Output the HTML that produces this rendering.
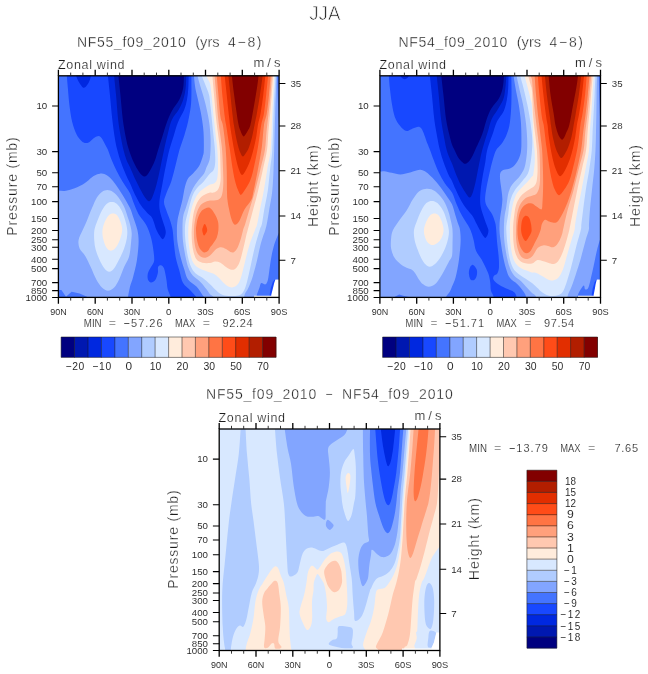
<!DOCTYPE html><html><head><meta charset="utf-8"><title>JJA</title><style>html,body{margin:0;padding:0;background:#fff}svg{display:block}text{font-family:"Liberation Sans",sans-serif;fill:#1c1c1c;stroke:#fff;stroke-width:.3px}</style></head><body>
<svg style="will-change:transform" width="648" height="674" viewBox="0 0 648 674">
<rect width="648" height="674" fill="#fff"/>
<text x="324.8" y="20" font-size="21" text-anchor="middle" textLength="31.2" lengthAdjust="spacingAndGlyphs" style="stroke-width:.75px">JJA</text>
<clipPath id="cp1"><rect x="58.4" y="75.8" width="220.7" height="221.6"/></clipPath>
<g clip-path="url(#cp1)" shape-rendering="geometricPrecision">
<rect x="58.4" y="75.8" width="220.7" height="221.6" fill="#4474ff"/>
<path d="M52 190.7C53.1 190.7 56.2 190.7 58.5 190.7C60.8 190.7 63.3 191.1 66 190.7C68.7 190.3 71.6 189.5 74.7 188.3C77.8 187.1 81.7 185.2 84.6 183.3C87.5 181.5 89.8 178.7 92 177.2C94.2 175.7 96.4 174.7 98.1 174.1C99.8 173.5 100.5 173.3 101.9 173.5C103.4 173.7 105 174.1 106.8 175.3C108.6 176.5 111 178.5 113 180.9C115 183.3 117 186.4 119.1 189.5C121.1 192.6 123.5 196.3 125.3 199.4C127.1 202.5 128.7 205.1 130 208C131.3 210.9 131.9 213 133.1 216.7C134.3 220.4 136.5 225.7 137.4 230C138.3 234.3 138.7 237.2 138.6 242.3C138.5 247.5 137.7 255.1 136.8 260.9C135.9 266.7 134.2 272.6 133.1 276.9C132 281.2 130.8 283.4 130 286.8C129.2 290.2 128.5 294.3 128 297C127.5 299.7 127.2 302 127 303L52 303Z" fill="#82a5ff"/>
<path d="M58 290L61.4 289.9L66 296.7L71.6 291.7L79.6 293.6L87 296.7L87 303L58 303Z" fill="#4474ff"/>
<path d="M82.7 230C84.1 226.8 85.5 224.1 87 220.4C88.5 216.7 90.3 211.8 92 208C93.7 204.2 95.2 200.2 96.9 197.5C98.6 194.8 100.2 193.2 101.9 192C103.7 190.8 105.6 190.1 107.4 190.1C109.2 190.1 111.2 190.8 113 192C114.8 193.2 116.7 195 118.5 197.5C120.3 200 122.4 203.2 124.1 206.8C125.8 210.4 127.3 215.9 128.4 219.1C129.5 222.3 129.9 223.7 130.5 226C131.1 228.3 131.6 230.5 131.7 233C131.8 235.5 131.5 237.8 131.2 241C130.9 244.2 130.5 249.1 130 252C129.5 254.9 129.4 255.9 128.4 258.4C127.4 260.9 125.6 263.5 124.1 267C122.5 270.5 120.8 276 119.1 279.4C117.4 282.8 116 285.5 114.2 287.4C112.4 289.3 110 290.7 108 290.7C106 290.7 103.9 289.3 101.9 287.4C100 285.5 98.2 282.8 96.3 279.4C94.4 276 92.5 270.9 90.7 267C88.9 263.1 87.1 259 85.2 255.9C83.3 252.8 80.7 251.2 79.6 248.5C78.5 245.8 78.1 243 78.6 239.9C79.1 236.8 81.3 233.2 82.7 230Z" fill="#b0ccff"/>
<path d="M94.4 230C95 226.8 96.2 223.7 97.5 220.4C98.8 217.2 100.4 213.3 101.9 210.5C103.5 207.7 105.2 205.1 106.8 203.7C108.4 202.3 110 201.9 111.7 201.9C113.4 201.9 115.1 202.3 116.7 203.7C118.3 205.1 120.2 207.7 121.6 210.5C123 213.3 124.4 217.2 125.3 220.4C126.2 223.7 127 227 127.2 230C127.5 233 127.3 235.5 126.8 238.6C126.3 241.7 125.4 245 124.1 248.5C122.8 252 120.8 256.3 119.1 259.6C117.4 262.9 115.8 266.3 114.2 268.3C112.6 270.3 111 271.7 109.3 271.7C107.6 271.7 105.9 270.3 104.3 268.3C102.7 266.3 100.8 262.7 99.4 259.6C98 256.5 96.6 253.1 95.7 249.8C94.8 246.5 94.4 243.2 94.2 239.9C94 236.6 93.9 233.2 94.4 230Z" fill="#d8e8ff"/>
<path d="M102.5 230C102.8 227.2 103.9 224 104.9 221.6C105.9 219.2 107.2 216.7 108.6 215.4C109.9 214.1 111.5 213.6 113 213.6C114.5 213.6 116.1 214.1 117.3 215.4C118.5 216.7 119.6 219.2 120.4 221.6C121.2 224 122.3 226.9 122.2 230C122.1 233.1 120.9 236.9 119.8 239.9C118.7 242.9 117 246.1 115.4 247.9C113.9 249.7 112 250.8 110.5 250.7C109 250.6 107.4 249.3 106.2 247.3C105 245.3 103.7 241.5 103.1 238.6C102.5 235.7 102.2 232.8 102.5 230Z" fill="#ffecdc"/>
<path d="M66.5 70C66.6 71.1 66.7 73.7 66.9 76.8C67.1 79.9 67.5 83.7 67.9 88.5C68.3 93.3 68.8 100.2 69.5 105.8C70.2 111.4 71 117.2 72.2 121.9C73.4 126.6 75 131 76.5 134.2C78 137.4 80 139.5 81.5 141C83 142.5 84.4 143 85.8 143.1C87.2 143.2 88.7 142.3 90.1 141.4C91.5 140.5 93 138.6 94.4 137.7C95.9 136.8 97.5 135.9 98.8 136C100 136.1 100.7 136.8 101.9 138.5C103.1 140.2 105.2 144.6 106.2 146.5C107.2 148.4 107.1 147.8 108 150C108.9 152.2 110.2 156.4 111.7 159.9C113.2 163.4 114.9 167.3 116.7 171C118.5 174.7 120.6 178.4 122.8 182.1C125 185.8 128.2 189.7 130 193.2C131.8 196.7 132.3 199.6 133.7 203.1C135.1 206.6 136.8 210.9 138.6 214.2C140.4 217.5 143.2 220.2 144.8 222.8C146.5 225.4 147.4 227.2 148.5 230C149.6 232.8 150.8 236.4 151.6 239.9C152.4 243.4 153.1 247.5 153.5 251C153.9 254.5 154.5 258.2 154.1 260.9C153.7 263.6 152 264.9 151 267C150 269.1 148.4 271.1 147.9 273.2C147.4 275.3 147.4 277.8 147.9 279.4C148.4 280.9 149.8 282.4 151 282.5C152.2 282.6 154.2 281.6 155.3 280C156.4 278.4 157.3 275.4 157.8 273.2C158.3 271 157.6 268.3 158.1 267C158.6 265.7 159.9 265 160.9 265.2C161.9 265.4 163.1 265.9 164 268.3C164.9 270.7 165.8 275.9 166.4 279.4C167 282.9 167 286.4 167.7 289.3C168.4 292.2 170 294.7 170.7 297C171.4 299.3 171.8 302 172 303L200 303C199.3 301.9 197.6 298.8 196 296.7C194.4 294.6 192.7 292.8 190.5 290.5C188.3 288.2 184.9 286.4 183.1 283.1C181.2 279.8 180.6 275 179.4 270.7C178.2 266.4 176.6 261.9 175.7 257.2C174.8 252.5 174.3 246.8 173.8 242.3C173.3 237.8 173.2 233.7 172.6 230C172 226.3 171.1 223.7 170.1 220.4C169.1 217.2 167.4 213.6 166.4 210.5C165.4 207.4 164 204.8 164 201.9C164 199 165.2 196.7 166.4 193.2C167.6 189.7 169.9 185.6 171.4 180.9C172.9 176.2 174.4 170 175.7 164.8C177 159.7 178 154.9 179.4 150C180.8 145.1 182.9 140.1 184.3 135.4C185.7 130.7 186.9 126.6 188 121.9C189.1 117.2 190.1 111.5 190.7 107C191.3 102.5 191.3 99.7 191.4 94.7C191.5 89.7 191.4 80.9 191.4 76.8C191.4 72.7 191.4 71.1 191.4 70Z" fill="#1848ff"/>
<path d="M76 70C76.1 71.1 76 74.8 76.5 76.8C77 78.8 78.1 80.6 79 82.3C79.9 84 81.3 85.8 82.1 86.7C82.9 87.6 83.3 87.8 84 87.7C84.7 87.6 85.6 86.9 86.4 86C87.2 85.1 88.2 83.8 88.9 82.3C89.6 80.8 90.3 78.8 90.7 76.8C91.1 74.8 91.1 71.1 91.2 70Z" fill="#0028e0"/>
<path d="M107.4 70C107.5 71.1 107.6 72.7 108 76.8C108.4 80.9 109.2 87.6 109.9 94.7C110.6 101.8 111.5 112.2 112.3 119.4C113.1 126.6 114 132.8 114.8 137.9C115.6 143 116.3 145.9 117.3 150C118.3 154.1 119.6 158.2 121 162.3C122.4 166.4 124.4 171.2 125.9 174.7C127.4 178.2 128.5 180 130 183.3C131.5 186.6 133.1 190.7 134.9 194.4C136.8 198.1 139 202.5 141.1 205.6C143.2 208.7 145.5 210.9 147.3 213C149.2 215.1 150.7 215.1 152.2 217.9C153.7 220.7 155.3 227.1 156.5 230C157.7 232.9 158.6 234 159.6 235.6C160.6 237.2 161.8 239.3 162.7 239.3C163.6 239.3 164.7 237.2 165.2 235.6C165.7 234 166 232.8 165.5 230C165 227.2 163.1 222.5 162.1 219.1C161.1 215.7 160 212.6 159.6 209.3C159.2 206 159.1 203.5 159.6 199.4C160.1 195.3 161.3 190.2 162.3 184.6C163.3 179 164.6 171.8 165.8 166C167 160.2 168 155.1 169.3 150C170.6 144.9 172.3 140.1 173.8 135.4C175.3 130.7 176.3 126.2 178.1 121.9C179.8 117.6 182.8 113.2 184.3 109.5C185.8 105.8 186.3 103.1 187 99.6C187.7 96.1 188 92.3 188.3 88.5C188.6 84.7 188.6 79.9 188.6 76.8C188.6 73.7 188.6 71.1 188.6 70Z" fill="#0028e0"/>
<path d="M113.6 70C113.7 71.1 113.8 72.7 114.2 76.8C114.6 80.9 115.3 87.6 116 94.7C116.7 101.8 117.3 112.2 118.1 119.4C118.9 126.6 120.1 132.8 121 137.9C121.9 143 122.6 146.3 123.5 150C124.4 153.7 125.4 157 126.5 159.9C127.6 162.8 128.6 164.2 130 167.3C131.4 170.4 133.1 174.5 134.9 178.4C136.8 182.3 139.2 187.3 141.1 190.7C142.9 194.1 144.7 197.1 146 198.8C147.3 200.6 148.1 201.4 149.1 201.2C150.1 201 151 200.3 152.2 197.5C153.4 194.7 155.2 189.4 156.5 184.6C157.8 179.8 158.9 174.3 160.2 168.5C161.4 162.7 162.7 156.1 164 150C165.3 143.9 167 136.8 168.3 131.7C169.6 126.6 170.2 123.1 172 119.4C173.8 115.7 176.9 112.8 178.8 109.5C180.7 106.2 182.2 103.1 183.3 99.6C184.4 96.1 185.1 92.3 185.6 88.5C186.1 84.7 186.1 79.9 186.2 76.8C186.3 73.7 186.3 71.1 186.3 70Z" fill="#0018b0"/>
<path d="M117.9 70C118 71.1 118.1 72.7 118.5 76.8C118.9 80.9 119.7 87.6 120.4 94.7C121.1 101.8 121.9 112.2 122.8 119.4C123.7 126.6 124.9 132.8 125.9 137.9C126.9 143 127.7 145.9 129 150C130.3 154.1 132 158.6 133.7 162.3C135.4 166 137.5 169.8 139.3 172.2C141.2 174.6 143.1 176.7 144.8 176.5C146.6 176.3 148.2 173.6 149.8 171C151.5 168.4 153.3 164.6 154.7 161.1C156.1 157.6 156.8 154.3 158.1 150C159.4 145.7 161.2 140.1 162.7 135.4C164.2 130.7 165.4 126 167 121.9C168.6 117.8 169.9 114.4 172 110.7C174.1 107 177.6 103.3 179.4 99.6C181.2 95.9 182.3 92.3 183.1 88.5C183.8 84.7 183.8 79.9 183.9 76.8C184.1 73.7 184 71.1 184 70Z" fill="#000080"/>
<path d="M193.6 70C193.7 71.1 193.7 73.7 194 76.8C194.3 79.9 194.7 84.3 195.4 88.5C196.2 92.7 197.5 97.4 198.5 102.1C199.5 106.8 200.8 112 201.6 116.9C202.4 121.8 203.1 126.2 203.5 131.7C203.9 137.2 203.9 145.9 203.8 150C203.7 154.1 203.6 153.5 202.8 156.2C202 158.9 200.7 163.1 199.1 166C197.5 168.9 194.8 171.4 193 173.5C191.2 175.6 189.3 176.2 188 178.4C186.7 180.7 185.8 183.5 184.9 187C184 190.5 183.4 195.3 182.5 199.4C181.6 203.5 180.2 208.2 179.4 211.7C178.6 215.2 177.9 217.3 177.5 220.4C177.1 223.5 176.9 226.3 176.9 230C176.9 233.7 176.9 237.8 177.5 242.3C178.1 246.8 179.5 252.7 180.6 257.2C181.7 261.7 183.1 265.8 184.3 269.5C185.5 273.2 185.9 276.5 188 279.4C190.1 282.3 194.2 284.1 196.7 286.8C199.2 289.5 201.6 293.7 202.8 295.4C204 297.1 203.7 295.7 204.1 297C204.5 298.3 204.8 302 205 303L256 303C256.1 301.6 256.3 297.3 256.9 294.8C257.5 292.3 258.7 289.9 259.4 288C260.1 286.1 260.2 283.7 261.2 283.1C262.2 282.5 264.5 284.9 265.6 284.3C266.7 283.7 267.4 281.7 268 279.4C268.6 277.1 268.8 274.2 269.3 270.7C269.8 267.2 270.3 262.7 271.1 258.4C271.9 254.1 273 248.9 274.2 244.8C275.4 240.7 277.4 236.5 278.5 233.7C279.6 230.9 280.6 228.9 281 228L281 138C280.6 135.3 279.3 127.3 278.8 122C278.3 116.7 278.3 111.3 278.1 106C277.9 100.7 277.7 94.9 277.6 90C277.5 85.1 277.4 80.1 277.3 76.8C277.2 73.5 277.3 71.1 277.3 70Z" fill="#82a5ff"/>
<path d="M197 70C197.1 71.1 197 73.7 197.7 76.8C198.4 79.9 199.8 84.5 201 88.5C202.2 92.5 203.6 96.6 204.7 100.9C205.8 105.2 207 110.3 207.8 114.4C208.6 118.5 209.2 121.8 209.6 125.6C210 129.4 210.3 132.9 210.5 137C210.7 141.1 210.7 146.2 210.5 150C210.3 153.8 210.2 157.1 209.5 160C208.8 162.9 207.4 165.1 206.5 167.3C205.6 169.6 205.5 171.2 204.1 173.5C202.7 175.8 199.8 178.4 197.9 180.9C196.1 183.4 194.4 185.6 193 188.3C191.6 191 190.4 193.8 189.3 196.9C188.2 200 187.2 203.5 186.2 206.8C185.2 210.1 183.7 212.8 183.1 216.7C182.5 220.6 182.5 225.7 182.5 230C182.5 234.3 182.6 237.8 183.1 242.3C183.6 246.8 184.7 252.9 185.6 257.2C186.5 261.5 187.4 265.2 188.6 268.3C189.8 271.4 191 273.4 193 275.7C195 278 198.2 279.6 200.4 281.9C202.7 284.2 204.9 287.2 206.5 289.3C208.1 291.4 208.8 292.9 210 294.2C211.2 295.5 212.7 295.5 213.7 297C214.7 298.5 215.6 302 216 303L243.5 303C243.7 301.6 243.8 297.3 244.6 294.8C245.4 292.3 247 291 248.3 288C249.6 285 251.2 281.4 252.6 276.9C254 272.4 255.5 266.7 256.9 260.9C258.3 255.1 259.8 247.5 261.2 242.3C262.6 237.2 264.4 233 265.3 230C266.2 227 266.1 227.5 266.8 224.1C267.5 220.7 268.4 214.9 269.3 209.3C270.2 203.7 271.6 197.5 272.3 190.7C273 183.9 273.3 175.3 273.6 168.5C273.9 161.7 273.9 159.2 274.2 150C274.5 140.8 274.8 125.4 275.2 113.2C275.6 101 276.2 84 276.4 76.8C276.6 69.6 276.5 71.1 276.5 70Z" fill="#b0ccff"/>
<path d="M201 70C201.2 71.1 201.5 74.3 202.2 76.8C202.9 79.3 204.2 81.8 205.3 84.8C206.4 87.8 208.1 91 209 94.7C209.9 98.4 209.9 100.8 210.6 107C211.3 113.2 212.4 124.5 213.1 131.7C213.8 138.9 214.6 144.9 214.9 150C215.2 155.1 215.4 159 215.2 162.3C215 165.6 214.6 167.9 213.7 169.8C212.8 171.7 211.6 171.7 210 173.5C208.4 175.3 206.1 178.7 204.1 180.9C202.1 183.2 199.7 184.9 197.9 187C196.2 189.1 194.8 190.7 193.6 193.2C192.4 195.7 191.4 198.8 190.5 201.9C189.6 205 188.8 208.4 188 211.7C187.2 215 186.1 218.5 185.6 221.6C185.1 224.7 184.9 226.6 184.9 230C184.9 233.4 185.1 237.8 185.6 242.3C186.1 246.8 187.1 253.1 188 257.2C188.9 261.3 189.9 264.3 191.1 267C192.3 269.7 193.4 271.3 195.4 273.2C197.4 275.1 200.4 276.2 202.8 278.1C205.2 280 208 282.4 210 284.3C212 286.2 213.1 287.7 214.9 289.3C216.8 290.9 218.8 293.1 221.1 294.2C223.4 295.3 225.6 295.8 228.5 296C231.4 296.2 235.9 296.1 238.4 295.4C240.9 294.7 241.9 293.9 243.3 291.7C244.7 289.4 245.8 286.2 247 281.9C248.2 277.6 249.3 271.8 250.7 265.8C252 259.8 253.6 252 255.1 246C256.6 240 258.6 233.7 259.7 230C260.8 226.3 261.1 227.5 261.9 224.1C262.7 220.7 263.3 214.9 264.3 209.3C265.3 203.7 266.8 197.5 267.8 190.7C268.8 183.9 269.4 175.3 270.2 168.5C270.9 161.7 271.7 159.2 272.3 150C272.9 140.8 273.1 125.4 273.6 113.2C274.1 101 275.1 84 275.4 76.8C275.7 69.6 275.5 71.1 275.5 70Z" fill="#d8e8ff"/>
<path d="M205 70C205.3 71.1 206 74.5 206.8 76.8C207.6 79.1 209.2 80.6 210 83.6C210.8 86.6 210.9 89.2 211.5 94.7C212.1 100.2 213 109.9 213.7 116.9C214.4 123.9 215.3 131.2 215.9 136.7C216.5 142.2 217.1 145.1 217.4 150C217.8 154.9 218 161.3 218 166C218 170.7 217.8 175.5 217.2 178.4C216.6 181.3 215.5 182.3 214.3 183.3C213.1 184.3 211.7 183.8 210 184.6C208.3 185.4 205.9 187 204.1 188.3C202.3 189.6 200.6 190.8 199.1 192.6C197.6 194.4 196 196.8 194.8 199.4C193.6 202 192.6 204.7 191.7 208C190.8 211.3 189.9 215.4 189.3 219.1C188.7 222.8 188.4 226.1 188.3 230C188.2 233.9 188.2 238.2 188.6 242.3C189 246.4 189.7 251.2 190.5 254.7C191.3 258.2 192.2 261 193.6 263.3C195 265.6 197.1 267.1 199.1 268.3C201.1 269.5 203.5 270 205.3 270.7C207.1 271.4 208.4 272 210 272.6C211.6 273.2 213.2 273.3 214.9 274.4C216.7 275.5 218.7 277.6 220.5 279.4C222.3 281.1 224.1 283.6 226 284.9C227.9 286.2 230.2 287.5 232.2 287.4C234.2 287.3 236.2 286.2 237.8 284.3C239.4 282.4 240.3 279.6 241.5 275.7C242.7 271.8 243.9 266 245.2 260.9C246.5 255.7 247.9 250 249.5 244.8C251.1 239.7 253.7 233.4 255 230C256.3 226.6 256.4 227.5 257.2 224.1C258 220.7 258.9 214.9 260 209.3C261.1 203.7 262.6 197.5 263.8 190.7C265 183.9 266.3 175.3 267.4 168.5C268.5 161.7 269.8 159.2 270.6 150C271.4 140.8 271.7 125.4 272.3 113.2C272.9 101 273.9 84 274.2 76.8C274.5 69.6 274.4 71.1 274.4 70Z" fill="#ffecdc"/>
<path d="M212 70C212.1 71.1 212.2 72.7 212.5 76.8C212.8 80.9 213.4 88 214 94.7C214.6 101.4 215.2 109.9 215.9 116.9C216.6 123.9 217.7 131.2 218.4 136.7C219.1 142.2 219.6 144.7 219.9 150C220.2 155.3 220.4 163.3 220.5 168.5C220.6 173.7 220.9 177.4 220.5 180.9C220.1 184.4 219.1 187.6 218 189.5C216.9 191.4 215 192.1 213.7 192.6C212.4 193.1 211.6 192.2 210 192.6C208.4 193 205.9 194 204.1 195.1C202.3 196.2 200.5 197.4 199.1 199.4C197.7 201.4 196.4 203.9 195.4 206.8C194.4 209.7 193.6 212.8 193 216.7C192.4 220.6 191.9 225.7 191.7 230C191.5 234.3 191.7 238.6 192 242.3C192.3 246 192.8 249.3 193.6 252.2C194.4 255.1 195.3 257.9 196.7 259.6C198.1 261.4 200 262.1 202.2 262.7C204.4 263.3 207.9 263.2 210 263C212.1 262.8 213.2 261.6 214.9 261.5C216.7 261.4 218.7 261.8 220.5 262.7C222.3 263.6 224.2 265.8 226 267C227.8 268.2 229.9 269.6 231.6 269.8C233.2 270 234.6 269.6 235.9 268.3C237.2 267 238.4 265.4 239.6 262.1C240.8 258.8 242.3 252.6 243.3 248.5C244.3 244.4 245.1 240.5 245.8 237.4C246.5 234.3 247.1 232.2 247.7 230C248.3 227.8 248.4 227.5 249.3 224.1C250.2 220.7 251.7 214.9 253.2 209.3C254.7 203.7 256.5 197.5 258.1 190.7C259.8 183.9 261.6 175.3 263.1 168.5C264.6 161.7 266.1 156.1 267 150C267.9 143.9 267.9 137.8 268.4 131.7C268.9 125.6 269.6 119.4 270.2 113.2C270.8 107 271.2 100.8 271.7 94.7C272.2 88.6 272.7 80.9 273 76.8C273.3 72.7 273.3 71.1 273.4 70Z" fill="#ffc8b0"/>
<path d="M214.2 70C214.3 71.1 214.4 72.7 214.7 76.8C215 80.9 215.6 88 216.2 94.7C216.8 101.4 217.3 109.9 218 116.9C218.7 123.9 219.8 131.2 220.5 136.7C221.2 142.2 221.7 144.7 222.1 150C222.5 155.3 222.8 162.7 223 168.5C223.2 174.3 223.5 180.1 223.3 184.6C223.1 189.1 222.7 193.1 221.7 195.7C220.7 198.3 219.3 199.2 217.4 200C215.5 200.8 212.2 200.2 210 200.6C207.8 201 205.8 201.6 204.1 202.5C202.4 203.4 201 204.4 199.8 206.2C198.6 207.9 197.5 210.4 196.7 213C195.9 215.6 195.2 218.8 194.8 221.6C194.4 224.4 194.1 226.9 194 230C193.9 233.1 193.9 236.6 194.2 239.9C194.5 243.2 195.2 247.2 196 249.8C196.8 252.4 197.8 254 199.1 255.3C200.4 256.6 202.3 257.8 204.1 257.8C205.9 257.8 208 256.9 210 255.5C212 254.1 214.3 250.5 216.2 249.1C218 247.7 219.5 247.3 221.1 247.3C222.7 247.3 224.4 248.3 226 249.1C227.6 249.9 229.1 251.5 230.4 252C231.8 252.5 232.9 252.8 234.1 252C235.3 251.2 236.7 249.5 237.8 247.3C238.9 245.1 240 241.5 240.9 238.6C241.8 235.7 242.4 232.4 243.1 230C243.8 227.6 244.1 227.5 245.2 224.1C246.3 220.7 247.8 214.9 249.5 209.3C251.2 203.7 253.2 197.5 255.1 190.7C256.9 183.9 259 175.3 260.6 168.5C262.2 161.7 263.9 156.1 264.9 150C265.9 143.9 265.9 137.8 266.5 131.7C267.1 125.6 267.9 119.4 268.6 113.2C269.3 107 270 100.8 270.5 94.7C271 88.6 271.4 80.9 271.7 76.8C272 72.7 272 71.1 272.1 70Z" fill="#ffa07c"/>
<path d="M216.3 70C216.4 71.1 216.5 72.7 216.8 76.8C217.2 80.9 217.8 88 218.4 94.7C219 101.4 219.8 111.9 220.5 116.9C221.2 122 222 119.9 222.8 125C223.7 130.1 224.9 139.9 225.6 147.3C226.2 154.7 226.5 162.1 226.7 169.5C226.9 176.9 226.9 186.7 227 191.8C227.1 196.9 227.2 197.3 227.5 200C227.8 202.7 228.1 204.8 228.8 208C229.5 211.2 230.6 216.7 231.6 219.5C232.6 222.3 233.5 224.3 234.7 224.7C235.9 225 237.3 224.2 239 221.6C240.7 219 242.6 212.9 244.6 209.3C246.6 205.7 249.7 202.9 251.2 200C252.7 197.1 252.3 196.9 253.4 191.8C254.5 186.7 256.5 176.9 257.9 169.5C259.3 162.1 260.8 154.7 261.8 147.3C262.8 139.9 263.2 130.7 264 125C264.8 119.3 266 118.2 266.8 113.2C267.6 108.2 268.4 100.8 269 94.7C269.6 88.6 270.2 80.9 270.5 76.8C270.8 72.7 270.8 71.1 270.9 70Z" fill="#ff7444"/>
<path d="M210 208C211.6 208.9 213.6 211.9 214.9 214.2C216.2 216.5 217.4 219 218 221.6C218.6 224.2 218.6 227.4 218.4 230C218.2 232.6 217.7 235.1 216.8 237.4C215.9 239.7 214.2 241.9 213.1 243.6C212 245.3 210.9 246.3 210 247.5C209.1 248.7 208.9 250.2 207.8 251C206.7 251.8 204.9 252.8 203.5 252.2C202.1 251.6 200.2 249.6 199.1 247.3C198 245 197.2 241.5 196.7 238.6C196.2 235.7 196.1 232.2 196 230C195.9 227.8 196.1 227.3 196.4 225.3C196.7 223.3 197.1 220.2 197.9 217.9C198.7 215.6 199.8 213.2 201 211.7C202.2 210.1 203.8 209.2 205.3 208.6C206.8 208 208.4 207.1 210 208Z" fill="#ff7444"/>
<path d="M220.4 70C220.5 71.1 220.6 72.7 220.9 76.8C221.2 80.9 221.7 88 222.3 94.7C223 101.4 224.2 111.9 224.8 116.9C225.4 122 225.3 119.9 226.1 125C226.9 130.1 228.4 139.9 229.5 147.3C230.6 154.7 231.9 163.9 232.8 169.5C233.7 175.1 234.2 177.3 235 180.7C235.8 184 236.8 187.2 237.8 189.6C238.8 192 239.6 194.9 240.8 194.9C242 194.9 243.6 192 245.1 189.6C246.6 187.2 248.7 184 250.1 180.7C251.5 177.3 252.1 175.1 253.4 169.5C254.7 163.9 256.6 154.7 257.9 147.3C259.2 139.9 260.2 130.7 261.2 125C262.2 119.3 263.2 118.2 264 113.2C264.8 108.2 265.5 100.8 266.2 94.7C266.9 88.6 267.6 80.9 268 76.8C268.4 72.7 268.3 71.1 268.4 70Z" fill="#ff4c18"/>
<path d="M204.7 224.1C205.3 224.1 206.1 226 206.5 227C206.9 228 207.2 229.1 207.2 230C207.2 230.9 207 231.6 206.5 232.5C206 233.4 204.7 235.5 204.1 235.6C203.5 235.7 203.1 233.9 202.8 233C202.5 232.1 202.2 231 202.2 230C202.2 229 202.6 228 203 227C203.4 226 204.1 224.1 204.7 224.1Z" fill="#ff4c18"/>
<path d="M224.3 70C224.4 71.1 224.4 72.7 224.8 76.8C225.2 80.9 226 88 226.7 94.7C227.4 101.4 228.5 111.9 229.1 116.9C229.7 122 229.6 121.8 230 125C230.4 128.2 231.1 132.4 231.7 136.1C232.3 139.8 232.9 143.6 233.6 147.3C234.3 151 235 154.7 235.9 158.4C236.8 162.1 237.9 166.7 238.9 169.5C239.9 172.3 240.9 175.1 242.1 175.1C243.3 175.1 244.7 172.3 246.2 169.5C247.7 166.7 249.6 162.1 250.9 158.4C252.2 154.7 253.1 151 254 147.3C254.9 143.6 255.7 139.8 256.4 136.1C257 132.4 257.2 128.8 257.9 125C258.6 121.2 259.7 118.2 260.6 113.2C261.5 108.2 262.5 100.8 263.3 94.7C264.1 88.6 264.8 80.9 265.2 76.8C265.6 72.7 265.6 71.1 265.7 70Z" fill="#e22e00"/>
<path d="M228 70C228.1 71.1 228.1 72.7 228.5 76.8C228.9 80.9 229.7 88 230.4 94.7C231.1 101.4 232.2 111.9 232.8 116.9C233.4 122 233.4 121.8 233.9 125C234.4 128.2 235.1 132.4 235.8 136.1C236.6 139.8 237.6 144.5 238.4 147.3C239.2 150.1 239.7 151.3 240.4 152.8C241.1 154.3 241.9 156.4 242.8 156.5C243.7 156.6 244.6 155.1 245.6 153.6C246.6 152.1 247.9 150.2 249 147.3C250.1 144.4 251.4 139.8 252.3 136.1C253.2 132.4 253.7 128.8 254.5 125C255.3 121.2 256 118.2 256.9 113.2C257.8 108.2 259.1 100.8 260 94.7C260.9 88.6 262 80.9 262.5 76.8C263 72.7 262.9 71.1 263 70Z" fill="#b21e00"/>
<path d="M231.5 70C231.6 71.1 231.6 72.7 232 76.8C232.4 80.9 233.3 88.8 234.1 94.7C234.8 100.6 235.8 107 236.5 112C237.2 117 237.9 121.9 238.6 125C239.2 128.1 239.8 129 240.4 130.6C241 132.2 241.4 133.6 242 134.6C242.6 135.6 243.1 136.4 243.7 136.4C244.3 136.4 244.8 135.6 245.5 134.6C246.2 133.6 247.1 132.2 247.9 130.6C248.7 129 249.4 128.9 250.4 125C251.4 121.1 252.7 113.1 253.8 107C254.9 100.9 256.1 93.5 256.9 88.5C257.7 83.5 258.1 79.9 258.4 76.8C258.7 73.7 258.7 71.1 258.8 70Z" fill="#820000"/>
<path d="M269.3 303L269.8 294L270.8 288L272.8 282L274.9 279.4L281 279.4L281 303Z" fill="#1848ff"/>
<path d="M275.4 279.4L281 279.4L281 303L271 303L271.3 294.8L273 288L274.2 283Z" fill="#fff"/>
<path d="M254 295.7L272 295.7L272 303L254 303Z" fill="#fff"/>
</g>
<g stroke="#000" stroke-width="1.3" fill="none">
<rect x="58.4" y="75.8" width="220.7" height="221.6"/>
<path d="M58.4 297.4v6.3M58.4 75.8v-6M95.2 297.4v6.3M95.2 75.8v-6M132 297.4v6.3M132 75.8v-6M168.8 297.4v6.3M168.8 75.8v-6M205.5 297.4v6.3M205.5 75.8v-6M242.3 297.4v6.3M242.3 75.8v-6M279.1 297.4v6.3M279.1 75.8v-6"/>
<path d="M70.7 297.4v3.2M70.7 75.8v-3.2M82.9 297.4v3.2M82.9 75.8v-3.2M107.4 297.4v3.2M107.4 75.8v-3.2M119.7 297.4v3.2M119.7 75.8v-3.2M144.2 297.4v3.2M144.2 75.8v-3.2M156.5 297.4v3.2M156.5 75.8v-3.2M181 297.4v3.2M181 75.8v-3.2M193.3 297.4v3.2M193.3 75.8v-3.2M217.8 297.4v3.2M217.8 75.8v-3.2M230.1 297.4v3.2M230.1 75.8v-3.2M254.6 297.4v3.2M254.6 75.8v-3.2M266.8 297.4v3.2M266.8 75.8v-3.2" stroke="#222" stroke-width="0.9"/>
<path d="M58.4 105.9h-6.3M58.4 151.6h-6.3M58.4 172.8h-6.3M58.4 186.8h-6.3M58.4 201.6h-6.3M58.4 218.5h-6.3M58.4 230.5h-6.3M58.4 239.8h-6.3M58.4 247.3h-6.3M58.4 259.3h-6.3M58.4 268.6h-6.3M58.4 282.6h-6.3M58.4 290.6h-6.3M58.4 297.4h-6.3" stroke-width="1.05"/>
</g>
<text x="47.2" y="109.2" font-size="9.3" text-anchor="end" textLength="10.8" lengthAdjust="spacingAndGlyphs" style="stroke-width:.05px">10</text>
<text x="47.2" y="154.9" font-size="9.3" text-anchor="end" textLength="10.8" lengthAdjust="spacingAndGlyphs" style="stroke-width:.05px">30</text>
<text x="47.2" y="176.1" font-size="9.3" text-anchor="end" textLength="10.8" lengthAdjust="spacingAndGlyphs" style="stroke-width:.05px">50</text>
<text x="47.2" y="190.1" font-size="9.3" text-anchor="end" textLength="10.8" lengthAdjust="spacingAndGlyphs" style="stroke-width:.05px">70</text>
<text x="47.2" y="204.9" font-size="9.3" text-anchor="end" textLength="16.2" lengthAdjust="spacingAndGlyphs" style="stroke-width:.05px">100</text>
<text x="47.2" y="221.8" font-size="9.3" text-anchor="end" textLength="16.2" lengthAdjust="spacingAndGlyphs" style="stroke-width:.05px">150</text>
<text x="47.2" y="233.8" font-size="9.3" text-anchor="end" textLength="16.2" lengthAdjust="spacingAndGlyphs" style="stroke-width:.05px">200</text>
<text x="47.2" y="243.1" font-size="9.3" text-anchor="end" textLength="16.2" lengthAdjust="spacingAndGlyphs" style="stroke-width:.05px">250</text>
<text x="47.2" y="250.6" font-size="9.3" text-anchor="end" textLength="16.2" lengthAdjust="spacingAndGlyphs" style="stroke-width:.05px">300</text>
<text x="47.2" y="262.6" font-size="9.3" text-anchor="end" textLength="16.2" lengthAdjust="spacingAndGlyphs" style="stroke-width:.05px">400</text>
<text x="47.2" y="271.9" font-size="9.3" text-anchor="end" textLength="16.2" lengthAdjust="spacingAndGlyphs" style="stroke-width:.05px">500</text>
<text x="47.2" y="285.9" font-size="9.3" text-anchor="end" textLength="16.2" lengthAdjust="spacingAndGlyphs" style="stroke-width:.05px">700</text>
<text x="47.2" y="293.9" font-size="9.3" text-anchor="end" textLength="16.2" lengthAdjust="spacingAndGlyphs" style="stroke-width:.05px">850</text>
<text x="47.2" y="300.7" font-size="9.3" text-anchor="end" textLength="21.6" lengthAdjust="spacingAndGlyphs" style="stroke-width:.05px">1000</text>
<text x="290.4" y="86.8" font-size="9.3" textLength="10.8" lengthAdjust="spacingAndGlyphs" style="stroke-width:.05px">35</text>
<text x="290.4" y="129.2" font-size="9.3" textLength="10.8" lengthAdjust="spacingAndGlyphs" style="stroke-width:.05px">28</text>
<text x="290.4" y="174.1" font-size="9.3" textLength="10.8" lengthAdjust="spacingAndGlyphs" style="stroke-width:.05px">21</text>
<text x="290.4" y="219.3" font-size="9.3" textLength="10.8" lengthAdjust="spacingAndGlyphs" style="stroke-width:.05px">14</text>
<text x="290.4" y="263.5" font-size="9.3" textLength="5.4" lengthAdjust="spacingAndGlyphs" style="stroke-width:.05px">7</text>
<path d="M279.1 83.5h6.3M279.1 125.9h6.3M279.1 170.8h6.3M279.1 216h6.3M279.1 260.2h6.3" stroke="#000" stroke-width="1.05" fill="none"/>
<text x="58.4" y="315.2" font-size="9.3" text-anchor="middle" textLength="16.5" lengthAdjust="spacingAndGlyphs" style="stroke-width:.05px">90N</text>
<text x="95.2" y="315.2" font-size="9.3" text-anchor="middle" textLength="16.5" lengthAdjust="spacingAndGlyphs" style="stroke-width:.05px">60N</text>
<text x="132" y="315.2" font-size="9.3" text-anchor="middle" textLength="16.5" lengthAdjust="spacingAndGlyphs" style="stroke-width:.05px">30N</text>
<text x="168.8" y="315.2" font-size="9.3" text-anchor="middle" textLength="5.4" lengthAdjust="spacingAndGlyphs" style="stroke-width:.05px">0</text>
<text x="205.5" y="315.2" font-size="9.3" text-anchor="middle" textLength="16.5" lengthAdjust="spacingAndGlyphs" style="stroke-width:.05px">30S</text>
<text x="242.3" y="315.2" font-size="9.3" text-anchor="middle" textLength="16.5" lengthAdjust="spacingAndGlyphs" style="stroke-width:.05px">60S</text>
<text x="279.1" y="315.2" font-size="9.3" text-anchor="middle" textLength="16.5" lengthAdjust="spacingAndGlyphs" style="stroke-width:.05px">90S</text>
<text x="76.9" y="46.5" font-size="14" textLength="109" lengthAdjust="spacing">NF55_f09_2010</text>
<text x="195.2" y="46.5" font-size="14" textLength="24.4" lengthAdjust="spacingAndGlyphs">(yrs</text>
<text x="228.1" y="46.5" font-size="14" textLength="33.4" lengthAdjust="spacing">4&#8722;8)</text>
<text x="58" y="69" font-size="12.5" textLength="66.5" lengthAdjust="spacing" style="stroke-width:.2px">Zonal wind</text>
<text x="280.5" y="66.7" font-size="13" text-anchor="end" textLength="27" lengthAdjust="spacing" style="stroke-width:.2px">m/s</text>
<text x="17" y="186.5" font-size="14" text-anchor="middle" textLength="98.3" lengthAdjust="spacing" transform="rotate(-90 17 186.5)">Pressure (mb)</text>
<text x="318.2" y="186" font-size="14" text-anchor="middle" textLength="82" lengthAdjust="spacing" transform="rotate(-90 318.2 186)">Height (km)</text>
<text x="83.8" y="326.8" font-size="11" textLength="17.8" lengthAdjust="spacingAndGlyphs" style="stroke-width:.15px">MIN</text>
<text x="109" y="326.8" font-size="11" textLength="6.8" lengthAdjust="spacingAndGlyphs" style="stroke-width:.15px">=</text>
<text x="123.6" y="326.8" font-size="11" textLength="39" lengthAdjust="spacing" style="stroke-width:.15px">&#8722;57.26</text>
<text x="174.9" y="326.8" font-size="11" textLength="20.3" lengthAdjust="spacingAndGlyphs" style="stroke-width:.15px">MAX</text>
<text x="203" y="326.8" font-size="11" textLength="6.8" lengthAdjust="spacingAndGlyphs" style="stroke-width:.15px">=</text>
<text x="222.5" y="326.8" font-size="11" textLength="30.2" lengthAdjust="spacing" style="stroke-width:.15px">92.24</text>
<clipPath id="cp2"><rect x="379.9" y="75.8" width="220.6" height="221.6"/></clipPath>
<g clip-path="url(#cp2)" shape-rendering="geometricPrecision">
<rect x="379.9" y="75.8" width="220.6" height="221.6" fill="#4474ff"/>
<path d="M374 171.8C375 171.8 378.3 171.7 380 171.6C381.7 171.5 382.3 171 384.3 171.2C386.3 171.4 389.1 172.3 391.8 172.8C394.5 173.3 397.5 174.4 400.4 174.4C403.3 174.4 406.3 173.5 409 172.8C411.7 172.1 414.3 170.9 416.4 170.4C418.5 169.9 419.8 169.7 421.4 170C423 170.3 424.4 170.9 426.3 172.2C428.2 173.5 430.2 175.4 432.5 177.8C434.8 180.2 437.4 183.2 439.9 186.4C442.4 189.6 445.3 193.9 447.3 196.9C449.3 199.9 450.7 201.4 452 204.3C453.3 207.2 454.1 210.9 455.1 214.2C456.1 217.5 457.4 221.5 458.2 224.1C459 226.7 459.6 227 460 230C460.4 233 460.8 237.2 460.6 242.3C460.4 247.5 459.6 255.1 458.8 260.9C458 266.7 456.8 272.6 455.7 276.9C454.6 281.2 453 284 452 286.5C451 289 450.8 290 449.8 291.7C448.8 293.4 446.9 294.8 446.1 296.7C445.3 298.6 445.2 301.9 445 303L374 303Z" fill="#82a5ff"/>
<path d="M394.8 303L394.8 296.7L399.2 294.4L404.1 296L409 297L409 303Z" fill="#4474ff"/>
<path d="M393 230C394.4 227 396.9 223.7 399.2 220.4C401.5 217.2 404.4 214 406.6 210.5C408.9 207 410.6 202.6 412.7 199.4C414.8 196.2 416.8 193.2 418.9 191.4C421 189.7 423 189.2 425.1 188.9C427.2 188.6 429.2 188.6 431.3 189.3C433.4 190 435.3 191.3 437.4 193.2C439.4 195.1 441.8 197.5 443.6 200.6C445.5 203.7 447.2 207.8 448.5 211.7C449.8 215.6 450.9 220.7 451.6 224.1C452.3 227.5 452.5 228.5 452.6 232C452.8 235.5 452.6 241 452.5 245C452.4 249 452.6 253.2 452 255.9C451.4 258.6 450.4 258.6 449.2 260.9C448 263.2 446.4 266.6 444.8 269.5C443.2 272.4 441.5 275.6 439.9 278.1C438.3 280.6 436.9 282.9 435 284.3C433.1 285.8 430.8 286.8 428.8 286.8C426.8 286.8 424.9 285.5 423.2 284.3C421.5 283.1 420.2 281.2 418.9 279.4C417.6 277.5 416.4 274.8 415.2 273.2C414 271.6 412.9 270.4 411.5 269.5C410.1 268.6 408.5 268.6 406.6 267.7C404.8 266.8 402.5 265.8 400.4 264C398.3 262.2 395.8 259.8 394.2 257.2C392.6 254.6 391.6 251.6 391.1 248.5C390.6 245.4 390.8 241.7 391.1 238.6C391.4 235.5 391.6 233 393 230Z" fill="#b0ccff"/>
<path d="M414 230C414.4 226.8 415.9 223.7 417.1 220.4C418.3 217.2 419.9 213.4 421.4 210.5C422.9 207.6 424.6 204.7 426.3 203.1C428.1 201.5 430 200.9 431.9 200.9C433.8 200.9 435.5 201.5 437.4 203.1C439.2 204.7 441.4 207.6 443 210.5C444.6 213.4 445.7 217.2 446.7 220.4C447.7 223.7 448.5 227.2 448.8 230C449.1 232.8 448.9 234.5 448.3 237.4C447.8 240.3 446.8 244 445.5 247.3C444.2 250.6 442.2 254.4 440.5 257.2C438.8 260 436.8 262.4 435 264C433.2 265.6 431.4 266.7 429.8 266.8C428.2 266.9 427.1 266 425.7 264.6C424.3 263.2 422.7 260.9 421.4 258.4C420.1 255.9 418.8 252.9 417.7 249.8C416.6 246.7 415.2 243.2 414.6 239.9C414 236.6 413.6 233.2 414 230Z" fill="#d8e8ff"/>
<path d="M423.9 230C424.1 227.4 425.3 224 426.3 221.6C427.3 219.2 428.7 216.7 430 215.4C431.3 214.1 432.9 213.6 434.3 213.6C435.8 213.6 437.4 214.1 438.7 215.4C439.9 216.7 441 219.2 441.8 221.6C442.6 224 443.6 227.4 443.6 230C443.6 232.6 442.8 235.2 441.8 237.4C440.8 239.6 438.9 241.7 437.4 243C435.8 244.3 434 245.1 432.5 245.1C431 245.1 429.4 244.3 428.2 243C427 241.7 425.8 239.6 425.1 237.4C424.4 235.2 423.7 232.6 423.9 230Z" fill="#ffecdc"/>
<path d="M388.5 70C388.6 71.1 388.7 73.7 388.9 76.8C389.1 79.9 389.4 84.1 389.9 88.5C390.4 92.9 391 98.6 391.8 103.3C392.6 108 393.5 113.2 394.8 116.9C396.1 120.6 398.2 123.4 399.8 125.6C401.4 127.8 402.8 129 404.1 129.9C405.4 130.8 406.4 131.1 407.8 130.9C409.2 130.7 410.9 129.3 412.7 128.6C414.4 127.9 416.9 126.8 418.3 126.8C419.8 126.8 420.4 127.2 421.4 128.6C422.4 130 423.5 132.8 424.5 135.4C425.5 138 426.7 141.7 427.6 144.1C428.5 146.5 429 147.4 430 150C431 152.6 432.2 156.2 433.7 159.9C435.1 163.6 436.8 168.3 438.7 172.2C440.6 176.1 442.6 179.9 444.8 183.3C447 186.7 450.2 189.5 452 192.6C453.8 195.7 454.3 198.5 455.7 201.9C457.1 205.3 459 209.7 460.6 213C462.2 216.3 464 218.8 465.6 221.6C467.2 224.4 469.2 226.9 470.5 230C471.8 233.1 472.7 236.4 473.6 239.9C474.5 243.4 474.8 247.7 476.1 251C477.4 254.3 480 256.7 481.6 259.6C483.2 262.5 484.8 265.6 486 268.3C487.2 271 488.3 273.2 489 275.7C489.7 278.2 490 280.6 490.3 283.1C490.6 285.6 490.4 288.4 490.9 290.5C491.4 292.6 492.7 293.9 493.4 296C494.1 298.1 494.7 301.8 495 303L517 303C516.9 301.7 517 297.4 516.2 295.4C515.5 293.4 514.4 292.3 512.5 291.1C510.6 289.9 507.5 289.1 505.1 288C502.7 286.9 500.2 285.7 498.3 284.3C496.4 282.9 494.1 280.8 493.4 279.4C492.7 278 493.4 276.6 494 275.7C494.6 274.8 496.3 275 497.1 273.8C497.9 272.6 498.6 271.1 498.9 268.3C499.2 265.5 499 261.5 498.7 257.2C498.4 252.9 497.5 246.8 497.1 242.3C496.7 237.8 496.5 233.2 496.2 230C495.9 226.8 495.9 225.4 495.2 222.8C494.5 220.2 493.4 216.9 492.1 214.2C490.8 211.5 488.4 209.3 487.2 206.8C486 204.3 485.2 202.7 485.1 199.4C485 196.1 485.8 191.5 486.6 187C487.4 182.5 488.7 176.7 489.7 172.2C490.7 167.7 491.6 163.6 492.7 159.9C493.8 156.2 494.8 152.6 496.2 150C497.6 147.4 499.7 146.5 501.4 144.1C503.1 141.7 505 138.5 506.3 135.4C507.6 132.3 508.6 129.7 509.4 125.6C510.2 121.5 510.6 115.8 511 110.7C511.4 105.6 511.4 100.4 511.5 94.7C511.6 89 511.4 80.9 511.3 76.8C511.2 72.7 511.2 71.1 511.2 70Z" fill="#1848ff"/>
<path d="M473 264.9C474.1 265.2 476.1 267.7 476.7 269.5C477.3 271.3 477.1 273.9 476.7 275.7C476.3 277.4 475.2 279.4 474.2 280C473.2 280.6 471.4 280.5 470.5 279.4C469.6 278.3 469 275.1 468.9 273.2C468.8 271.2 469.2 269.1 469.9 267.7C470.6 266.3 471.9 264.6 473 264.9Z" fill="#1848ff"/>
<path d="M400 70C400.2 71.1 400.2 75.2 401 76.8C401.8 78.3 403.5 79.3 404.7 79.3C405.9 79.3 407.6 78.3 408.4 76.8C409.2 75.2 409.2 71.1 409.4 70Z" fill="#0028e0"/>
<path d="M429.4 70C429.5 71.1 429.6 72.7 430 76.8C430.4 80.9 431.2 87.6 431.9 94.7C432.6 101.8 433.4 112.2 434.3 119.4C435.2 126.6 436.5 132.8 437.4 137.9C438.3 143 438.9 145.9 439.9 150C440.9 154.1 442.2 158.2 443.6 162.3C445 166.4 447.1 171.6 448.5 174.7C449.9 177.8 450.8 178.4 452 180.9C453.2 183.4 454.1 186 455.7 189.5C457.3 193 459.8 198.4 461.9 201.9C463.9 205.4 466.1 208 468 210.5C469.9 213 471.6 214.4 473 216.7C474.4 219 475.6 221.9 476.7 224.1C477.8 226.3 478.9 228.3 479.8 230C480.7 231.7 481.3 233 482.2 234.3C483.1 235.6 484.4 238 485.3 238C486.2 238 487.3 235.6 487.8 234.3C488.3 233 488.5 231.3 488.4 230C488.3 228.7 487.9 228.5 487.2 226.5C486.5 224.5 485.1 221 484.1 217.9C483.1 214.8 481.7 211.1 481 208C480.3 204.9 480.1 202.9 480.1 199.4C480.1 195.9 480.5 191.1 481 187C481.5 182.9 482.2 178.8 482.9 174.7C483.6 170.6 484.6 166.4 485.3 162.3C486 158.2 485.9 155.1 487.2 150C488.5 144.9 491.8 136.5 493.4 131.7C495 126.9 495.4 124.7 497.1 121.2C498.9 117.7 502.3 114.3 503.9 110.7C505.5 107.1 506.2 103.3 506.9 99.6C507.6 95.9 507.9 92.3 508.2 88.5C508.5 84.7 508.4 79.9 508.5 76.8C508.6 73.7 508.5 71.1 508.5 70Z" fill="#0028e0"/>
<path d="M436.2 70C436.3 71.1 436.4 72.7 436.8 76.8C437.2 80.9 438 87.6 438.7 94.7C439.4 101.8 440.2 112.2 441.1 119.4C442 126.6 443.3 132.8 444.2 137.9C445.1 143 445.8 146.6 446.7 150C447.6 153.4 448.9 156.3 449.8 158.6C450.7 160.9 451 161.1 452 163.6C453 166.1 454.3 170 455.7 173.5C457.1 177 458.9 181.2 460.6 184.6C462.4 188 464.6 191.7 466.2 193.8C467.8 196 468.8 197.8 469.9 197.5C471 197.2 472 195 473 192C474 189 475.1 184.3 476.1 179.6C477.1 174.9 478.2 168.5 479.2 163.6C480.2 158.7 480.8 155.3 482.2 150C483.6 144.7 486.2 136.8 487.8 131.7C489.4 126.6 489.9 123.1 491.5 119.4C493.1 115.7 495.8 112.8 497.7 109.5C499.6 106.2 501.9 103.1 503.2 99.6C504.5 96.1 504.8 92.3 505.3 88.5C505.8 84.7 506.1 79.9 506.3 76.8C506.5 73.7 506.4 71.1 506.4 70Z" fill="#0018b0"/>
<path d="M440.8 70C440.9 71.1 441 72.7 441.4 76.8C441.8 80.9 442.6 87.6 443.4 94.7C444.2 101.8 445.1 112.8 446.1 119.4C447.1 126 448.2 130 449.2 134.2C450.2 138.4 451.1 141.9 452 144.5C452.9 147.1 453.5 147.8 454.5 150C455.5 152.2 456.9 155.3 458.2 157.4C459.5 159.5 461.3 161.2 462.5 162.3C463.7 163.4 464.5 164 465.6 163.8C466.7 163.6 468.1 162.6 469.3 161.1C470.5 159.6 472 156.8 473 154.9C474 153.1 473.7 153.4 475.2 150C476.7 146.6 480.3 139.3 482.2 134.2C484.1 129.1 485.1 123.7 486.6 119.4C488.2 115.1 489.4 111.8 491.5 108.3C493.6 104.8 497 101.7 498.9 98.4C500.8 95.1 501.8 92.1 502.6 88.5C503.4 84.9 503.7 79.9 503.9 76.8C504.1 73.7 504 71.1 504 70Z" fill="#000080"/>
<path d="M513.3 70C513.4 71.1 513.3 73.7 513.7 76.8C514.1 79.9 514.8 83.9 515.6 88.5C516.4 93.1 517.8 99 518.7 104.6C519.6 110.2 520.5 116.4 520.9 121.9C521.3 127.5 521.4 133.2 521.4 137.9C521.4 142.6 521.5 146.8 521.1 150C520.8 153.2 520.3 154.9 519.3 157.4C518.3 159.9 516.5 163 515 164.8C513.5 166.7 511.9 167.7 510 168.5C508.1 169.3 505.5 169.1 503.9 169.8C502.3 170.5 501 171.2 500.4 172.8C499.8 174.4 499.9 176.8 500.1 179.6C500.3 182.4 501 186.2 501.4 189.5C501.8 192.8 502.4 196.1 502.4 199.4C502.4 202.7 501.8 206 501.4 209.3C501 212.6 500.2 215.7 499.9 219.1C499.6 222.5 499.4 226.1 499.5 230C499.6 233.9 500.2 237.8 500.8 242.3C501.4 246.8 502.3 252.7 503.2 257.2C504.1 261.7 505.2 266 506.3 269.5C507.4 273 508.1 275.6 510 278.1C511.9 280.6 515.1 282 517.4 284.3C519.7 286.6 522.1 289.6 523.6 291.7C525.1 293.8 525.5 294.8 526.1 296.7C526.7 298.6 526.9 301.9 527 303L576.5 303C576.7 301.7 577 297.7 577.7 295.4C578.4 293.1 579.8 290.9 580.8 289.3C581.8 287.7 583.2 285.6 583.9 285.6C584.6 285.6 584.4 288.9 585.1 289.3C585.8 289.7 587.3 289.6 588.2 288C589.1 286.4 589.7 283.1 590.6 279.4C591.5 275.7 592.7 270.5 593.7 265.8C594.7 261.1 595.7 255.5 596.8 251C597.9 246.5 599.3 241.8 600.3 238.6C601.2 235.4 602.1 233.1 602.5 232L602.5 135C602.1 132.5 600.8 125.2 600.3 120C599.8 114.8 599.8 109 599.6 104C599.4 99 599.2 94.5 599.1 90C599 85.5 598.9 80.1 598.8 76.8C598.7 73.5 598.7 71.1 598.7 70Z" fill="#82a5ff"/>
<path d="M516.2 70C516.3 71.1 516.3 73.7 516.8 76.8C517.3 79.9 518.3 83.9 519.3 88.5C520.3 93.1 521.9 99 523 104.6C524.1 110.2 525.1 116.4 525.8 121.9C526.5 127.5 526.9 133.2 527.1 137.9C527.3 142.6 527.3 146.3 527.1 150C526.9 153.7 526.6 156.8 526.1 159.9C525.6 163 525.2 165.8 524.2 168.5C523.2 171.2 521.5 173.6 519.9 175.9C518.2 178.2 515.9 180 514.3 182.1C512.6 184.2 511.1 185.8 510 188.3C508.9 190.8 508.2 193.8 507.6 196.9C507 200 506.8 203.5 506.3 206.8C505.8 210.1 504.9 212.8 504.5 216.7C504.1 220.6 503.9 225.7 503.9 230C503.9 234.3 504 237.8 504.5 242.3C505 246.8 506 252.9 506.9 257.2C507.8 261.5 508.8 265.2 510 268.3C511.2 271.4 512.4 273.6 514.3 275.7C516.1 277.8 518.9 279.1 521.1 281.2C523.3 283.2 525.5 286 527.3 288C529.1 290 530.6 291.7 532 293C533.4 294.3 534.7 294.3 535.7 296C536.7 297.7 537.6 301.8 538 303L566.5 303C566.7 301.7 567 298.1 567.8 295.4C568.6 292.7 570.2 290.3 571.5 286.8C572.8 283.3 574.2 279.1 575.8 274.4C577.3 269.7 579.1 264.1 580.8 258.4C582.4 252.6 584.4 244.6 585.7 239.9C587 235.2 588.2 232.6 588.8 230C589.3 227.4 588.8 227.5 589 224.1C589.2 220.7 589.5 214.9 590 209.3C590.5 203.7 591.2 197.5 591.9 190.7C592.6 183.9 593.7 175.3 594.3 168.5C594.9 161.7 595.2 156.1 595.5 150C595.8 143.9 595.9 137.8 596 131.7C596.1 125.6 596.3 119.4 596.4 113.2C596.5 107 596.5 100.8 596.6 94.7C596.7 88.6 596.9 80.9 597 76.8C597.1 72.7 597 71.1 597 70Z" fill="#b0ccff"/>
<path d="M519.7 70C519.8 71.1 519.9 73.7 520.5 76.8C521.1 79.9 522.5 83.9 523.6 88.5C524.7 93.1 526.2 99.4 527.3 104.6C528.4 109.8 529.3 114.9 530 119.4C530.7 123.9 531.2 128.3 531.6 131.7C532 135.1 532.2 136.9 532.3 140C532.4 143.1 532.3 146.3 532 150C531.7 153.7 531.3 158.4 530.6 162.3C529.9 166.2 529.3 170.4 527.9 173.5C526.5 176.6 524.3 178.4 522.4 180.9C520.5 183.4 518 185.8 516.2 188.3C514.5 190.8 513 193 511.9 195.7C510.8 198.4 510 201.2 509.4 204.3C508.8 207.4 508.7 210.9 508.2 214.2C507.7 217.5 506.9 221.5 506.6 224.1C506.3 226.7 506.2 227 506.3 230C506.4 233 506.7 237.8 507.2 242.3C507.7 246.8 508.5 253.1 509.4 257.2C510.3 261.3 511.3 264.4 512.5 267C513.7 269.6 514.9 270.9 516.8 272.6C518.6 274.4 521.1 275.8 523.6 277.5C526.1 279.2 529.8 281.5 532 283.1C534.2 284.8 535 285.8 536.9 287.4C538.8 289 540.8 291.6 543.1 293C545.4 294.4 547.8 295.7 550.5 296C553.2 296.3 557 295.7 559.2 294.8C561.4 293.9 562.2 292.9 563.5 290.5C564.8 288.1 565.9 284.7 567.2 280.6C568.5 276.5 570 271.6 571.5 265.8C573 260 574.9 252 576.4 246C577.9 240 580 233.7 580.8 230C581.6 226.3 581 227.5 581.4 224.1C581.8 220.7 582.5 214.9 583.2 209.3C583.9 203.7 584.7 197.5 585.7 190.7C586.7 183.9 588.4 175.3 589.4 168.5C590.4 161.7 591.3 156.1 591.8 150C592.3 143.9 592.3 137.8 592.6 131.7C592.9 125.6 593.3 119.4 593.6 113.2C593.9 107 594.3 100.8 594.6 94.7C594.9 88.6 595.2 80.9 595.4 76.8C595.5 72.7 595.5 71.1 595.5 70Z" fill="#d8e8ff"/>
<path d="M524 70C524.1 71.1 524.2 74.1 524.8 76.8C525.3 79.5 526.4 82.4 527.3 86C528.2 89.6 529.6 94.9 530.4 98.4C531.2 101.9 531.5 100.6 532 107C532.5 113.4 532.8 129.5 533.2 136.7C533.6 143.9 534.2 145.7 534.5 150C534.8 154.3 534.9 158.2 534.7 162.3C534.5 166.4 533.7 172.3 533.2 174.7C532.8 177.1 533 175.3 532 176.5C531 177.7 529.1 180.1 527.3 182.1C525.5 184.1 523 186.2 521.1 188.3C519.2 190.4 517.5 191.9 516.2 194.4C514.9 196.9 513.9 200 513.1 203.1C512.3 206.2 511.8 209.7 511.3 213C510.8 216.3 510.2 220 510 222.8C509.8 225.6 509.8 226.8 509.8 230C509.9 233.2 509.9 238.2 510.3 242.3C510.7 246.4 511.3 251.2 512.2 254.7C513.1 258.2 514.1 261 515.6 263.3C517.1 265.6 519.2 267.1 521.1 268.3C523 269.5 525.5 270 527.3 270.7C529.1 271.4 530.4 272.2 532 272.6C533.6 273 535.1 272.6 536.9 273.2C538.6 273.8 540.6 275.3 542.5 276.3C544.4 277.3 546.2 278.7 548 279.4C549.8 280.1 551.2 280.7 553 280.4C554.8 280.1 556.9 279.3 558.5 277.5C560.1 275.7 561.4 273.3 562.9 269.5C564.4 265.7 565.8 259.6 567.2 254.7C568.6 249.8 570.3 244 571.5 239.9C572.7 235.8 574 232.6 574.6 230C575.2 227.4 574.7 227.5 575.2 224.1C575.7 220.7 576.7 214.9 577.7 209.3C578.7 203.7 580.1 197.5 581.4 190.7C582.7 183.9 584.4 175.3 585.7 168.5C587 161.7 588.4 156.1 589.1 150C589.8 143.9 589.4 137.8 589.8 131.7C590.2 125.6 590.8 119.4 591.3 113.2C591.8 107 592.1 100.8 592.5 94.7C592.9 88.6 593.5 80.9 593.7 76.8C593.9 72.7 593.9 71.1 593.9 70Z" fill="#ffecdc"/>
<path d="M527.8 70C527.9 71.1 528 74.1 528.5 76.8C529 79.5 530.4 83.6 531 86C531.6 88.4 531.6 85.8 532 91C532.4 96.2 532.6 109.3 533.2 116.9C533.8 124.5 534.9 131.2 535.5 136.7C536.1 142.2 536.5 144.7 536.9 150C537.2 155.3 537.6 163.3 537.6 168.5C537.6 173.7 537.2 178 536.7 180.9C536.2 183.8 535.3 184.7 534.5 185.8C533.7 186.9 533.4 186.8 532 187.7C530.6 188.6 527.9 190.1 526.1 191.4C524.3 192.7 522.7 193.8 521.1 195.7C519.5 197.6 517.9 200.4 516.8 203.1C515.7 205.8 515.2 208.6 514.7 211.7C514.2 214.8 513.8 218.5 513.5 221.6C513.2 224.7 513.1 226.6 513.1 230C513.1 233.4 513.1 238.6 513.5 242.3C513.9 246 514.3 249.3 515.2 252.2C516.1 255.1 517.2 257.8 518.7 259.6C520.2 261.4 522 262.4 524.2 263.1C526.4 263.8 529.9 264.1 532 263.6C534.1 263.1 535.1 260.6 536.9 260.2C538.6 259.8 540.6 260.5 542.5 260.9C544.4 261.3 546.1 262.2 548 262.7C549.9 263.2 552 264.2 553.6 264C555.2 263.8 556.5 263.2 557.9 261.5C559.3 259.8 560.9 256.7 562.2 253.5C563.6 250.3 564.8 246.2 566 242.3C567.2 238.4 568.5 233 569.3 230C570 227 569.8 227.5 570.5 224.1C571.2 220.7 572.3 214.9 573.4 209.3C574.5 203.7 575.7 197.5 577.1 190.7C578.5 183.9 580.5 175.3 582 168.5C583.5 161.7 585.2 156.1 586.1 150C587 143.9 587.1 137.8 587.6 131.7C588.1 125.6 588.8 119.4 589.4 113.2C590 107 590.5 100.8 591 94.7C591.5 88.6 592.2 80.9 592.5 76.8C592.8 72.7 592.8 71.1 592.8 70Z" fill="#ffc8b0"/>
<path d="M530.5 70C530.6 71.1 530.8 75.1 531 76.8C531.2 78.5 531.6 77 532 80C532.4 83 532.6 88.5 533.2 94.7C533.8 100.9 534.7 109.9 535.5 116.9C536.3 123.9 537.2 131.2 537.9 136.7C538.5 142.2 539 144.7 539.4 150C539.8 155.3 540 162.7 540 168.5C540 174.3 540.2 180.5 539.7 184.6C539.2 188.7 538.2 191.3 536.9 193.2C535.6 195 533.7 195 532 195.7C530.3 196.4 528.4 196.5 526.7 197.5C525 198.5 523.1 200.2 521.8 201.9C520.5 203.7 519.5 205.5 518.7 208C517.9 210.5 517.2 213 516.8 216.7C516.3 220.4 516.1 226.1 516 230C515.9 233.9 515.9 236.6 516.2 239.9C516.5 243.2 517.2 247 518 249.8C518.8 252.6 519.8 255 521.1 256.5C522.5 258 524.3 259 526.1 259C527.9 259 530.1 258.4 532 256.5C533.9 254.7 535.8 249.8 537.6 247.9C539.5 246.1 541.4 245.7 543.1 245.4C544.8 245.1 546.5 245.7 548 246C549.5 246.3 551 247.4 552.4 247.3C553.8 247.2 554.9 246.6 556.1 245.4C557.3 244.2 558.8 241.9 559.8 239.9C560.8 237.9 561.7 235.3 562.2 233.7C562.7 232 562.6 231.6 563 230C563.4 228.4 563.5 227.5 564.3 224.1C565.1 220.7 566.3 214.9 567.8 209.3C569.3 203.7 571.5 197.5 573.4 190.7C575.2 183.9 577.2 175.3 578.9 168.5C580.6 161.7 582.5 156.1 583.6 150C584.7 143.9 584.6 137.8 585.3 131.7C586 125.6 586.9 119.4 587.6 113.2C588.3 107 588.8 100.8 589.4 94.7C590 88.6 590.7 80.9 591 76.8C591.3 72.7 591.2 71.1 591.3 70Z" fill="#ffa07c"/>
<path d="M534.2 70C534.3 71.1 534.4 72.7 534.7 76.8C535 80.9 535.4 88 536 94.7C536.6 101.4 537.4 109.9 538.2 116.9C539 123.9 540 131.2 540.6 136.7C541.2 142.2 541.7 144.7 542.1 150C542.5 155.3 542.7 162.3 542.9 168.5C543.1 174.7 543.2 181.4 543.1 187C543 192.6 542.8 198.2 542.5 201.9C542.2 205.6 542.5 208.5 541.6 209.3C540.7 210.1 538.5 207.8 536.9 206.8C535.3 205.9 533.6 204.1 532 203.6C530.4 203.1 528.8 203.2 527.3 203.7C525.8 204.2 524.3 205.2 523 206.8C521.7 208.4 520.5 210.5 519.7 213C518.9 215.5 518.4 218.8 518 221.6C517.6 224.4 517.4 227.2 517.4 230C517.4 232.8 517.5 235.7 518 238.6C518.5 241.5 519.4 244.9 520.5 247.3C521.6 249.7 523.3 252 524.8 252.8C526.2 253.6 528 252.9 529.2 252.2C530.4 251.5 531 250.2 532 248.5C533 246.8 534.1 244.4 535.1 242.3C536.1 240.2 537.3 238.2 538.2 236.2C539.1 234.1 540 232 540.6 230C541.2 228 541.2 225.8 541.9 224.1C542.6 222.4 543.8 220.2 545 219.8C546.2 219.4 547.8 221.1 549.3 221.6C550.8 222.1 552.7 223 554.2 222.8C555.7 222.6 556.9 222.5 558.5 220.4C560.1 218.3 562.1 214.8 564.1 210.5C566.1 206.2 568.3 200.4 570.3 194.4C572.2 188.4 574 182.1 575.8 174.7C577.6 167.3 579.9 157.2 581.1 150C582.3 142.8 582.4 137.8 583.2 131.7C584 125.6 584.9 119.4 585.7 113.2C586.5 107 587.2 100.8 587.8 94.7C588.4 88.6 589.1 80.9 589.4 76.8C589.7 72.7 589.7 71.1 589.7 70Z" fill="#ff7444"/>
<path d="M537.4 70C537.5 71.1 537.6 72.7 537.9 76.8C538.2 80.9 538.7 88 539.4 94.7C540.1 101.4 541.2 111.9 541.9 116.9C542.6 122 542.9 119.9 543.7 125C544.5 130.1 545.5 139.9 546.5 147.3C547.5 154.7 548.9 163.9 549.8 169.5C550.7 175.1 551.2 177.3 552 180.7C552.8 184 553.6 187.2 554.8 189.6C556 192 557.4 195.2 559 195.2C560.6 195.2 562.6 192 564.3 189.6C566 187.2 567.9 184 569.3 180.7C570.7 177.3 571.2 175.1 572.6 169.5C574 163.9 576.3 154.7 577.6 147.3C578.9 139.9 579.6 130.7 580.4 125C581.2 119.3 581.8 118.2 582.6 113.2C583.4 108.2 584.4 100.8 585.1 94.7C585.8 88.6 586.3 80.9 586.6 76.8C586.9 72.7 586.9 71.1 586.9 70Z" fill="#ff4c18"/>
<path d="M521.1 230C521 227.6 521.4 223.7 521.8 221.6C522.2 219.5 522.9 218.3 523.6 217.3C524.3 216.3 525.2 215.6 526.1 215.7C527 215.8 528.4 216.5 529.2 217.9C530 219.3 530.6 222.1 531 224.1C531.4 226.1 531.6 228.5 531.6 230C531.6 231.5 531.5 231.8 531 233C530.5 234.2 529.4 236.1 528.5 237.4C527.6 238.8 526.5 241.3 525.5 241.1C524.5 240.9 523.1 238 522.4 236.2C521.7 234.3 521.2 232.4 521.1 230Z" fill="#ff4c18"/>
<path d="M541.1 70C541.2 71.1 541.2 72.7 541.6 76.8C542 80.9 542.6 88 543.4 94.7C544.2 101.4 545.5 111.9 546.2 116.9C546.9 122 547.2 121.8 547.6 125C548 128.2 548.2 132.4 548.7 136.1C549.2 139.8 549.8 143.6 550.4 147.3C551 151 551.7 154.7 552.6 158.4C553.5 162.1 554.6 166.5 555.9 169.5C557.2 172.5 558.6 176.2 560.2 176.2C561.8 176.2 563.8 172.5 565.4 169.5C567 166.5 568.8 162.1 570.1 158.4C571.4 154.7 572.3 151 573.2 147.3C574.1 143.6 574.8 139.8 575.4 136.1C576 132.4 576.3 128.8 576.9 125C577.5 121.2 578.4 118.2 579.2 113.2C580.1 108.2 581.2 100.8 582 94.7C582.8 88.6 583.5 80.9 583.9 76.8C584.3 72.7 584.2 71.1 584.3 70Z" fill="#e22e00"/>
<path d="M544.5 70C544.6 71.1 544.6 72.7 545 76.8C545.4 80.9 546 88 546.8 94.7C547.6 101.4 549.2 111.9 549.9 116.9C550.6 122 550.4 121.8 550.9 125C551.4 128.2 551.9 132.4 552.6 136.1C553.4 139.8 554.5 144.3 555.4 147.3C556.3 150.3 557.2 152.2 558.2 154C559.2 155.8 560.2 158.1 561.3 158.1C562.4 158.1 563.6 155.8 564.8 154C565.9 152.2 567.1 150.3 568.2 147.3C569.4 144.3 570.8 139.8 571.7 136.1C572.6 132.4 573 128.8 573.7 125C574.4 121.2 574.9 118.2 575.8 113.2C576.7 108.2 578 100.8 578.9 94.7C579.8 88.6 580.6 80.9 581.1 76.8C581.6 72.7 581.5 71.1 581.6 70Z" fill="#b21e00"/>
<path d="M548.2 70C548.3 71.1 548.3 72.7 548.7 76.8C549.1 80.9 549.7 88.6 550.5 94.7C551.3 100.8 552.8 108.2 553.6 113.2C554.4 118.2 554.7 121.7 555.4 125C556.1 128.3 556.9 130.7 557.6 132.8C558.3 134.9 559 136.4 559.8 137.6C560.5 138.8 561.4 139.7 562.1 139.7C562.8 139.7 563.5 138.8 564.2 137.6C564.9 136.4 565.4 134.9 566.2 132.8C567.1 130.7 568.2 129.3 569.3 125C570.4 120.7 571.6 113.1 572.7 107C573.9 100.9 575.3 93.5 576.2 88.5C577.1 83.5 577.5 79.9 577.9 76.8C578.3 73.7 578.3 71.1 578.4 70Z" fill="#820000"/>
<path d="M591.3 303L591.8 294L592.8 288L594.5 282.5L596.3 279.6L603 279.4L603 303Z" fill="#1848ff"/>
<path d="M596.8 279.4L603 279.4L603 303L593.5 303L593.7 294.8L595 288L595.6 284.3Z" fill="#fff"/>
<path d="M578 295.7L595 295.7L595 303L578 303Z" fill="#fff"/>
</g>
<g stroke="#000" stroke-width="1.3" fill="none">
<rect x="379.9" y="75.8" width="220.6" height="221.6"/>
<path d="M379.9 297.4v6.3M379.9 75.8v-6M416.7 297.4v6.3M416.7 75.8v-6M453.4 297.4v6.3M453.4 75.8v-6M490.2 297.4v6.3M490.2 75.8v-6M527 297.4v6.3M527 75.8v-6M563.7 297.4v6.3M563.7 75.8v-6M600.5 297.4v6.3M600.5 75.8v-6"/>
<path d="M392.2 297.4v3.2M392.2 75.8v-3.2M404.4 297.4v3.2M404.4 75.8v-3.2M428.9 297.4v3.2M428.9 75.8v-3.2M441.2 297.4v3.2M441.2 75.8v-3.2M465.7 297.4v3.2M465.7 75.8v-3.2M477.9 297.4v3.2M477.9 75.8v-3.2M502.5 297.4v3.2M502.5 75.8v-3.2M514.7 297.4v3.2M514.7 75.8v-3.2M539.2 297.4v3.2M539.2 75.8v-3.2M551.5 297.4v3.2M551.5 75.8v-3.2M576 297.4v3.2M576 75.8v-3.2M588.2 297.4v3.2M588.2 75.8v-3.2" stroke="#222" stroke-width="0.9"/>
<path d="M379.9 105.9h-6.3M379.9 151.6h-6.3M379.9 172.8h-6.3M379.9 186.8h-6.3M379.9 201.6h-6.3M379.9 218.5h-6.3M379.9 230.5h-6.3M379.9 239.8h-6.3M379.9 247.3h-6.3M379.9 259.3h-6.3M379.9 268.6h-6.3M379.9 282.6h-6.3M379.9 290.6h-6.3M379.9 297.4h-6.3" stroke-width="1.05"/>
</g>
<text x="368.7" y="109.2" font-size="9.3" text-anchor="end" textLength="10.8" lengthAdjust="spacingAndGlyphs" style="stroke-width:.05px">10</text>
<text x="368.7" y="154.9" font-size="9.3" text-anchor="end" textLength="10.8" lengthAdjust="spacingAndGlyphs" style="stroke-width:.05px">30</text>
<text x="368.7" y="176.1" font-size="9.3" text-anchor="end" textLength="10.8" lengthAdjust="spacingAndGlyphs" style="stroke-width:.05px">50</text>
<text x="368.7" y="190.1" font-size="9.3" text-anchor="end" textLength="10.8" lengthAdjust="spacingAndGlyphs" style="stroke-width:.05px">70</text>
<text x="368.7" y="204.9" font-size="9.3" text-anchor="end" textLength="16.2" lengthAdjust="spacingAndGlyphs" style="stroke-width:.05px">100</text>
<text x="368.7" y="221.8" font-size="9.3" text-anchor="end" textLength="16.2" lengthAdjust="spacingAndGlyphs" style="stroke-width:.05px">150</text>
<text x="368.7" y="233.8" font-size="9.3" text-anchor="end" textLength="16.2" lengthAdjust="spacingAndGlyphs" style="stroke-width:.05px">200</text>
<text x="368.7" y="243.1" font-size="9.3" text-anchor="end" textLength="16.2" lengthAdjust="spacingAndGlyphs" style="stroke-width:.05px">250</text>
<text x="368.7" y="250.6" font-size="9.3" text-anchor="end" textLength="16.2" lengthAdjust="spacingAndGlyphs" style="stroke-width:.05px">300</text>
<text x="368.7" y="262.6" font-size="9.3" text-anchor="end" textLength="16.2" lengthAdjust="spacingAndGlyphs" style="stroke-width:.05px">400</text>
<text x="368.7" y="271.9" font-size="9.3" text-anchor="end" textLength="16.2" lengthAdjust="spacingAndGlyphs" style="stroke-width:.05px">500</text>
<text x="368.7" y="285.9" font-size="9.3" text-anchor="end" textLength="16.2" lengthAdjust="spacingAndGlyphs" style="stroke-width:.05px">700</text>
<text x="368.7" y="293.9" font-size="9.3" text-anchor="end" textLength="16.2" lengthAdjust="spacingAndGlyphs" style="stroke-width:.05px">850</text>
<text x="368.7" y="300.7" font-size="9.3" text-anchor="end" textLength="21.6" lengthAdjust="spacingAndGlyphs" style="stroke-width:.05px">1000</text>
<text x="611.8" y="86.8" font-size="9.3" textLength="10.8" lengthAdjust="spacingAndGlyphs" style="stroke-width:.05px">35</text>
<text x="611.8" y="129.2" font-size="9.3" textLength="10.8" lengthAdjust="spacingAndGlyphs" style="stroke-width:.05px">28</text>
<text x="611.8" y="174.1" font-size="9.3" textLength="10.8" lengthAdjust="spacingAndGlyphs" style="stroke-width:.05px">21</text>
<text x="611.8" y="219.3" font-size="9.3" textLength="10.8" lengthAdjust="spacingAndGlyphs" style="stroke-width:.05px">14</text>
<text x="611.8" y="263.5" font-size="9.3" textLength="5.4" lengthAdjust="spacingAndGlyphs" style="stroke-width:.05px">7</text>
<path d="M600.5 83.5h6.3M600.5 125.9h6.3M600.5 170.8h6.3M600.5 216h6.3M600.5 260.2h6.3" stroke="#000" stroke-width="1.05" fill="none"/>
<text x="379.9" y="315.2" font-size="9.3" text-anchor="middle" textLength="16.5" lengthAdjust="spacingAndGlyphs" style="stroke-width:.05px">90N</text>
<text x="416.7" y="315.2" font-size="9.3" text-anchor="middle" textLength="16.5" lengthAdjust="spacingAndGlyphs" style="stroke-width:.05px">60N</text>
<text x="453.4" y="315.2" font-size="9.3" text-anchor="middle" textLength="16.5" lengthAdjust="spacingAndGlyphs" style="stroke-width:.05px">30N</text>
<text x="490.2" y="315.2" font-size="9.3" text-anchor="middle" textLength="5.4" lengthAdjust="spacingAndGlyphs" style="stroke-width:.05px">0</text>
<text x="527" y="315.2" font-size="9.3" text-anchor="middle" textLength="16.5" lengthAdjust="spacingAndGlyphs" style="stroke-width:.05px">30S</text>
<text x="563.7" y="315.2" font-size="9.3" text-anchor="middle" textLength="16.5" lengthAdjust="spacingAndGlyphs" style="stroke-width:.05px">60S</text>
<text x="600.5" y="315.2" font-size="9.3" text-anchor="middle" textLength="16.5" lengthAdjust="spacingAndGlyphs" style="stroke-width:.05px">90S</text>
<text x="398.4" y="46.5" font-size="14" textLength="109" lengthAdjust="spacing">NF54_f09_2010</text>
<text x="516.7" y="46.5" font-size="14" textLength="24.4" lengthAdjust="spacingAndGlyphs">(yrs</text>
<text x="549.6" y="46.5" font-size="14" textLength="33.4" lengthAdjust="spacing">4&#8722;8)</text>
<text x="379.5" y="69" font-size="12.5" textLength="66.5" lengthAdjust="spacing" style="stroke-width:.2px">Zonal wind</text>
<text x="602" y="66.7" font-size="13" text-anchor="end" textLength="27" lengthAdjust="spacing" style="stroke-width:.2px">m/s</text>
<text x="338.5" y="186.5" font-size="14" text-anchor="middle" textLength="98.3" lengthAdjust="spacing" transform="rotate(-90 338.5 186.5)">Pressure (mb)</text>
<text x="639.7" y="186" font-size="14" text-anchor="middle" textLength="82" lengthAdjust="spacing" transform="rotate(-90 639.7 186)">Height (km)</text>
<text x="405.3" y="326.8" font-size="11" textLength="17.8" lengthAdjust="spacingAndGlyphs" style="stroke-width:.15px">MIN</text>
<text x="430.5" y="326.8" font-size="11" textLength="6.8" lengthAdjust="spacingAndGlyphs" style="stroke-width:.15px">=</text>
<text x="445.1" y="326.8" font-size="11" textLength="39" lengthAdjust="spacing" style="stroke-width:.15px">&#8722;51.71</text>
<text x="496.4" y="326.8" font-size="11" textLength="20.3" lengthAdjust="spacingAndGlyphs" style="stroke-width:.15px">MAX</text>
<text x="524.5" y="326.8" font-size="11" textLength="6.8" lengthAdjust="spacingAndGlyphs" style="stroke-width:.15px">=</text>
<text x="544" y="326.8" font-size="11" textLength="30.2" lengthAdjust="spacing" style="stroke-width:.15px">97.54</text>
<clipPath id="cp3"><rect x="219.2" y="429" width="220.7" height="221.5"/></clipPath>
<g clip-path="url(#cp3)" shape-rendering="geometricPrecision">
<rect x="219.2" y="429" width="220.7" height="221.5" fill="#d8e8ff"/>
<path d="M241 423C240.9 424.1 241 424.7 240.6 429.8C240.2 434.9 239.7 445.8 238.8 453.9C237.9 462 236.3 470.4 235.1 478.6C233.9 486.8 232.4 495.9 231.4 503C230.4 510.1 229.7 514.3 228.9 521.5C228.1 528.7 227.1 539 226.4 546.2C225.7 553.4 225.2 558.6 224.6 564.7C224 570.8 223.1 576.9 222.7 583C222.3 589.1 222.1 594.3 222.1 601.5C222.1 608.7 222.4 619.4 222.7 626.2C223 633 223.6 638.4 224 642.3C224.4 646.2 224.9 647.4 225.2 649.7C225.5 652 225.5 655 225.6 656L230.6 656C230.6 655 230.7 651.6 230.8 649.7C230.9 647.8 231 647 231.4 644.7C231.8 642.4 232.4 638.8 233.2 636.1C234 633.4 235.2 630.5 236.3 628.7C237.4 627 238.8 625.9 240 625.6C241.2 625.3 242.3 627.7 243.3 626.8C244.3 625.9 245.3 623.2 246.2 620C247.1 616.8 247.8 612.2 248.7 607.7C249.6 603.2 250.5 597 251.7 592.9C252.9 588.8 255 586 256.1 583C257.2 580 258 577.6 258.5 574.6C259 571.6 259.2 569.4 258.9 564.7C258.6 560 257.6 553.4 256.7 546.2C255.8 539 254.5 528.7 253.6 521.5C252.7 514.3 251.8 510.1 251.1 503C250.4 495.9 250 486.8 249.3 478.6C248.6 470.4 247.6 462 247 453.9C246.4 445.8 245.9 434.9 245.6 429.8C245.3 424.7 245.4 424.1 245.4 423Z" fill="#b0ccff"/>
<path d="M274.5 423C274.6 424.1 274.6 424.7 275 429.8C275.4 434.9 276.1 445.8 277 453.9C277.9 462 279 470.4 280.1 478.6C281.2 486.8 283 495.9 283.8 503C284.6 510.1 284.7 514.3 285.1 521.5C285.5 528.7 285.9 539 286.3 546.2C286.7 553.4 287 560.2 287.3 564.7C287.6 569.2 287.6 571.4 288.2 573.4C288.8 575.4 289.5 576.7 291 576.6C292.5 576.5 295.8 574.8 297.2 572.8C298.6 570.8 298.8 567.7 299.6 564.7C300.4 561.7 301.1 557.5 302.1 554.9C303.1 552.3 304.4 550.5 305.8 549.3C307.2 548 309.2 547.5 310.8 547.4C312.4 547.3 313.9 548.1 315.7 548.7C317.5 549.3 319.8 551.1 321.9 551.1C323.9 551.1 325.8 549.6 328 548.7C330.2 547.8 332.9 546.6 335.4 545.6C337.9 544.6 341.1 542.7 342.9 542.5C344.6 542.3 345.1 542.8 345.9 544.4C346.7 546 347.2 549 347.8 552.4C348.4 555.8 349 560.6 349.6 564.7C350.2 568.8 351.1 574.1 351.5 577.1C351.9 580.1 351.9 580 352.1 583C352.3 586 352.4 590.6 352.7 595.3C353 600 353.6 607.2 354 611.4C354.4 615.6 354 619.6 355 620.7C356 621.8 358.6 619.8 360.1 618.2C361.6 616.7 362.7 614.2 363.8 611.4C364.9 608.6 365.9 605 366.9 601.5C367.9 598 369.3 592.5 370 590.4C370.7 588.2 370.4 589.8 371 588.6C371.6 587.4 372.5 584.7 373.5 583C374.5 581.3 375.6 579.5 377.2 578.3C378.8 577.1 381.2 576.9 383.3 575.8C385.4 574.7 387.6 573.5 389.5 571.5C391.4 569.5 393.2 566.7 394.5 563.5C395.8 560.3 396.6 556.7 397.5 552.4C398.4 548.1 399.4 543.2 400 537.6C400.6 532 400.8 524.8 401.2 519C401.6 513.2 401.8 507.7 402.1 503C402.4 498.3 402.5 496 402.9 490.9C403.3 485.8 404 479.6 404.6 472.4C405.2 465.2 406 454.8 406.6 447.7C407.2 440.6 407.7 433.9 408 429.8C408.3 425.7 408.3 424.1 408.4 423Z" fill="#b0ccff"/>
<path d="M353.3 448.9C352.4 449.1 350.5 452.8 349 455.1C347.5 457.4 345.4 459.6 344.1 462.5C342.8 465.4 341.6 468.7 341 472.4C340.4 476.1 340.3 480.6 340.4 484.7C340.5 488.8 341.3 494.1 341.6 497.1C341.9 500.2 341.8 500.6 342.2 503C342.6 505.4 343.2 508.6 344.1 511.6C345 514.6 346.6 520.3 347.8 520.9C349 521.5 350.5 518.3 351.5 515.3C352.5 512.3 353.4 506 354 503C354.6 500 354.9 500.2 355.2 497.1C355.5 494.1 355.7 489.9 355.8 484.7C355.9 479.5 356 471.3 355.8 466.2C355.6 461.1 355 456.8 354.6 453.9C354.2 451 354.2 448.7 353.3 448.9Z" fill="#d8e8ff"/>
<path d="M348 473C348.8 472.6 350 473.3 350.3 474.9C350.6 476.4 350.4 479.3 350 482.3C349.6 485.3 348.6 492 348 492.8C347.4 493.6 347 489.8 346.6 487.2C346.2 484.6 345.4 479.7 345.6 477.3C345.8 474.9 347.2 473.4 348 473Z" fill="#ffecdc"/>
<path d="M284 423C284.1 424.1 284.2 425.7 284.8 429.8C285.4 433.9 286.5 442.1 287.5 447.7C288.5 453.3 290 457.5 291 463.7C292 469.9 292.5 478.1 293.5 484.7C294.5 491.2 295.8 498.7 296.9 503C298 507.3 298.8 508.2 300.3 510.4C301.8 512.6 303.9 514.9 305.8 516C307.8 517.1 309.9 516.8 312 516.8C314.1 516.8 316.1 515.5 318.2 516C320.3 516.5 323.7 520.6 324.9 519.7C326.1 518.8 325.5 513.2 325.6 510.4C325.8 507.6 325.7 504.8 325.8 503C325.9 501.2 325.7 502.1 326.2 499.5C326.7 496.9 328.1 491.7 328.7 487.2C329.3 482.7 329.9 477.3 329.9 472.4C329.9 467.5 329 461.4 328.7 457.6C328.4 453.8 327.8 451.6 328 449.5C328.2 447.4 328.4 446.7 329.9 445.2C331.3 443.7 334.3 441.9 336.7 440.3C339.1 438.7 342.4 437.1 344.1 435.3C345.9 433.6 346.3 431.9 347.2 429.8C348.1 427.8 349.1 424.1 349.5 423Z" fill="#82a5ff"/>
<path d="M328 519.7C328.9 519.8 330.8 521.8 331.7 522.8C332.6 523.8 333.9 524.6 333.6 525.8C333.3 527 331.1 529.8 329.9 529.9C328.7 530 326.8 527.8 326.2 526.5C325.6 525.2 325.9 523.2 326.2 522.1C326.5 521 327.1 519.6 328 519.7Z" fill="#82a5ff"/>
<path d="M362.9 423C362.9 424.1 362.8 424.7 362.9 429.8C362.9 434.9 363 445.8 363.2 453.9C363.4 462 363.4 470.4 363.8 478.6C364.2 486.8 365.2 496.9 365.7 503C366.2 509.1 366.5 510.1 366.9 515.3C367.3 520.4 367.9 529.6 368.2 533.9C368.5 538.2 369.5 539.7 368.8 541.3C368.1 542.9 365.2 542.3 363.8 543.7C362.4 545.1 361 547.2 360.1 549.9C359.2 552.6 358.5 556.1 358.3 559.8C358.1 563.5 358.5 568.6 358.9 572.1C359.3 575.6 360 578.7 360.6 581C361.2 583.3 361.8 585.6 362.6 586.1C363.4 586.6 364.5 584.9 365.2 584C365.9 583.1 366.4 582.1 366.9 581C367.4 579.9 367.8 579.8 368.2 577.1C368.6 574.4 368.9 568.4 369.4 564.7C369.9 561 370.6 557.4 371 554.9C371.4 552.4 371.1 550.7 371.5 550C371.9 549.3 372.6 549.8 373.5 550.5C374.4 551.2 375.8 553.1 377.2 554.2C378.6 555.3 380.5 556.8 382.1 557.1C383.7 557.5 385.4 557.1 387 556.3C388.6 555.5 390 554.5 391.4 552.4C392.8 550.3 394.1 547.2 395.1 543.7C396.1 540.2 396.8 536.1 397.5 531.4C398.2 526.7 398.7 520 399.1 515.3C399.5 510.6 399.8 507.1 400 503C400.2 498.9 400.2 496 400.6 490.9C401 485.8 401.8 479.6 402.5 472.4C403.2 465.2 404 454.8 404.6 447.7C405.2 440.6 405.9 433.9 406.2 429.8C406.5 425.7 406.6 424.1 406.7 423Z" fill="#82a5ff"/>
<path d="M370 423C370 424.1 370 424.7 370 429.8C370 434.9 369.8 447.5 370 453.9C370.2 460.3 370.5 462.6 371 468C371.5 473.4 372.3 480.2 373 486C373.7 491.8 374.4 498.1 375.4 503C376.4 507.9 377.7 511.2 379 515.3C380.3 519.4 381.9 524.7 383.3 527.7C384.8 530.7 386.4 533.2 387.7 533.2C389 533.2 390.3 530.7 391.4 527.7C392.5 524.7 393.7 519.4 394.5 515.3C395.3 511.2 395.8 507.1 396.3 503C396.8 498.9 396.9 496 397.5 490.9C398.1 485.8 399.3 479.6 400 472.4C400.7 465.2 401.3 454.8 401.9 447.7C402.4 440.6 403 433.9 403.3 429.8C403.6 425.7 403.7 424.1 403.8 423Z" fill="#4474ff"/>
<path d="M374.8 423C374.9 424.1 374.8 423.6 375.3 429.8C375.8 436 376.8 450.9 377.8 460C378.8 469.1 380.3 477.9 381.5 484.7C382.7 491.5 384.1 497.6 385.2 501C386.3 504.4 387.4 505.1 388.3 505.2C389.2 505.3 390 503.9 390.8 501.5C391.6 499.1 392.3 495.8 393.2 490.9C394.1 486 395.4 479.6 396.3 472.4C397.2 465.2 398.2 454.8 398.8 447.7C399.4 440.6 399.7 433.9 400 429.8C400.3 425.7 400.3 424.1 400.4 423Z" fill="#1848ff"/>
<path d="M380.2 423C380.3 424.1 380.4 425.7 380.9 429.8C381.4 433.9 382.4 442.2 383.3 447.7C384.2 453.1 385.6 459.4 386.4 462.5C387.2 465.6 387.6 466.4 388.3 466.2C389 466 390 464.4 390.8 461.3C391.6 458.2 392.5 452.9 393.2 447.7C393.9 442.4 394.7 433.9 395.1 429.8C395.5 425.7 395.7 424.1 395.8 423Z" fill="#0028e0"/>
<path d="M410 423C409.9 424.1 409.8 425.7 409.5 429.8C409.2 433.9 408.6 440.6 408 447.7C407.4 454.8 406.5 465.2 405.9 472.4C405.3 479.6 404.7 485.8 404.3 490.9C403.9 496 403.6 498.3 403.3 503C403 507.7 402.9 513.2 402.5 519C402.1 524.8 401.7 532 401.2 537.6C400.7 543.2 400.3 547.7 399.6 552.4C398.9 557.1 398 562.1 396.9 566C395.8 569.9 394.5 573 393.2 575.8C391.9 578.6 390.3 581 388.9 583C387.5 585 386.4 586.9 384.6 587.9C382.9 588.9 379.8 588.4 378.4 589.2C376.9 590 376.6 589.8 375.9 592.9C375.2 596 374.9 603 374.1 607.7C373.3 612.4 372.1 617.3 371 621C369.9 624.7 368.7 626.6 367.5 629.9C366.3 633.2 364.5 638.3 363.8 641C363.1 643.7 363 644.5 363.2 646C363.4 647.5 364.6 648.3 365.1 650C365.6 651.7 365.9 655 366 656L414.8 656C414.8 654.5 414.9 648.9 414.8 647.2C414.7 645.5 413.9 647.4 414.2 646C414.5 644.6 416.4 640.9 416.7 638.6C417 636.3 416 633.9 416.1 632.4C416.2 630.9 417 633 417.3 629.9C417.6 626.8 417.6 619.7 417.9 613.9C418.2 608.1 418.5 600.4 419.1 595.3C419.7 590.1 420.8 585.8 421.6 583C422.4 580.2 423.1 580.7 424.1 578.3C425.1 575.9 426.6 571.7 427.8 568.4C429 565.1 430.3 561.3 431.5 558.6C432.7 555.9 433.9 554.4 435.2 552.4C436.5 550.4 438 548.7 439.5 546.8C441 544.9 443.2 542 444 541L444 423Z" fill="#ffecdc"/>
<path d="M411 423C410.9 424.1 410.8 425.7 410.5 429.8C410.2 433.9 409.8 440.6 409.3 447.7C408.8 454.8 408 465.2 407.4 472.4C406.8 479.6 406.1 485.8 405.6 490.9C405.1 496 404.9 498.3 404.6 503C404.3 507.7 404.1 512.8 403.7 519C403.3 525.2 403 533.4 402.5 540C402 546.6 401.5 553.2 400.9 558.6C400.3 564 399.6 568 398.8 572.1C398 576.2 397.3 579.1 396.3 583C395.3 586.9 393.9 590.1 392.6 595.3C391.3 600.4 390 607.7 388.3 613.9C386.6 620.1 384.4 627.7 382.7 632.4C380.9 637.1 378.9 639.8 377.8 642.3C376.7 644.8 375.8 645.9 375.9 647.2C376 648.5 377.9 648.5 378.4 650C378.9 651.5 378.9 655 379 656L403.5 656C403.6 654.6 403.7 649.7 404.3 647.8C404.9 645.9 406.5 646.9 407.4 644.7C408.3 642.5 409.3 638.9 409.9 634.8C410.5 630.7 410.7 625.5 411.1 620C411.5 614.5 411.8 607.7 412.4 601.5C413 595.3 414.1 586.9 414.8 583C415.5 579.1 415.7 581.3 416.7 578.3C417.7 575.2 419.6 569.6 421 564.7C422.4 559.8 423.9 554.2 425.3 548.7C426.7 543.2 428.2 537 429.6 531.4C431.1 525.8 432.8 520 434 515.3C435.2 510.6 436.3 508.1 437 503C437.7 497.9 437.9 491.9 438.3 484.7C438.7 477.5 439.1 467.4 439.5 460C439.9 452.6 440.6 446.2 441 440C441.4 433.8 441.8 425.8 442 423Z" fill="#ffc8b0"/>
<path d="M414 423C413.9 424.1 413.9 425.7 413.6 429.8C413.3 433.9 412.9 440.6 412.4 447.7C411.8 454.8 411 465.2 410.3 472.4C409.6 479.6 408.6 485.8 408 490.9C407.4 496 407.1 497.9 406.8 503C406.5 508.1 406.2 515.3 406.2 521.5C406.2 527.7 406.3 534.9 406.6 540C406.9 545.1 407.4 549.4 408 552.4C408.6 555.4 409.5 557.7 410.3 557.9C411.1 558.1 411.9 556.4 413 553.6C414.1 550.8 415.3 546 416.7 541.3C418.1 536.6 420 530.6 421.6 525.2C423.2 519.9 425.5 512.9 426.6 509.2C427.7 505.5 427.8 506.1 428.4 503C429 499.9 429.7 496 430.3 490.9C430.9 485.8 431.5 479.6 432.1 472.4C432.7 465.2 433.5 454.8 434 447.7C434.5 440.6 434.8 433.9 435 429.8C435.2 425.7 435.2 424.1 435.3 423Z" fill="#ffa07c"/>
<path d="M419 423C418.9 424.1 418.9 425.7 418.5 429.8C418.1 433.9 417.4 440.6 416.7 447.7C416 454.8 415 465.2 414.5 472.4C414 479.6 413.7 486.4 413.6 490.9C413.6 495.4 413.9 497.8 414.2 499.5C414.5 501.2 415.1 501.4 415.7 501C416.3 500.6 416.9 500.2 417.9 497.1C418.9 494 420.4 488.5 421.6 482.3C422.8 476.1 424.3 466.8 425.3 460C426.3 453.2 427 446.5 427.5 441.5C428 436.5 428.2 432.9 428.4 429.8C428.6 426.7 428.7 424.1 428.8 423Z" fill="#ff7444"/>
<path d="M245.3 656C245.4 655 245.3 652.1 245.6 650C245.8 647.9 246 646.4 246.8 643.5C247.6 640.6 249.4 636.7 250.5 632.4C251.6 628.1 252.8 622.8 253.6 617.6C254.4 612.5 254.6 606 255.4 601.5C256.2 597 257.2 593.5 258.5 590.4C259.8 587.3 261.5 585.2 262.9 583C264.2 580.8 265.2 579.3 266.6 577.1C268 574.9 270.1 571.5 271.5 569.7C272.9 567.9 274.1 566.4 275.2 566.2C276.3 566 277.3 566.6 278.3 568.4C279.3 570.2 280.5 574.7 281.4 577.1C282.3 579.5 283 580 283.8 583C284.6 586 285.5 591.2 286.3 595.3C287.1 599.4 288.3 602.6 288.8 607.7C289.3 612.9 289.2 621.1 289.4 626.2C289.6 631.4 289.7 635.1 290 638.6C290.3 642.1 290.8 645.3 291 647.2C291.2 649.1 291.3 648.5 291.5 650C291.7 651.5 291.9 655 292 656Z" fill="#ffecdc"/>
<path d="M274.6 580.8C273.7 580.8 273.2 581.8 272.1 583C271 584.2 269.1 586.2 267.8 587.9C266.5 589.5 265 590.6 264.1 592.9C263.2 595.2 262.3 598 262.2 601.5C262.1 605 263 609.8 263.5 613.9C264 618 265.1 622.1 265.3 626.2C265.5 630.3 264.9 635.1 264.7 638.6C264.5 642.1 263.6 645.7 264.1 647.2C264.6 648.7 266.6 648.4 267.8 647.8C269 647.2 270.5 644.2 271.5 643.5C272.5 642.8 273.4 642.7 274 643.5C274.6 644.3 274.2 647.6 275.2 648.4C276.2 649.2 279.1 648.7 280.1 648.4C281.1 648.1 281.7 647.8 281.4 646.6C281.1 645.4 278.5 644.4 278.3 641C278.1 637.6 279.7 631.8 280.1 626.2C280.5 620.7 280.9 612.9 280.8 607.7C280.7 602.6 280 599.4 279.5 595.3C279 591.2 278.5 585.4 277.7 583C276.9 580.6 275.5 580.8 274.6 580.8Z" fill="#ffc8b0"/>
<path d="M306.4 583C307 579.4 307.1 576 307.7 573.4C308.3 570.8 309.3 568.5 310.1 567.2C310.9 565.9 311.8 565.6 312.6 565.7C313.4 565.8 314.3 567.1 315.1 567.8C315.9 568.5 316.6 570 317.5 569.7C318.4 569.4 319.2 567.9 320.6 566C322 564.1 323.8 560.8 325.6 558.6C327.5 556.4 329.6 554.2 331.7 553C333.8 551.8 336.2 551.3 337.9 551.4C339.5 551.5 340.6 552 341.6 553.6C342.6 555.2 343.4 557.9 344.1 561C344.8 564.1 345.5 568.4 345.9 572.1C346.3 575.8 346.4 579.5 346.6 583C346.8 586.5 347.1 589.2 347.2 592.9C347.3 596.6 347.5 601.7 347.2 605.2C346.9 608.7 346.4 612 345.3 613.9C344.2 615.8 342.4 615.4 340.4 616.3C338.3 617.2 334.9 618.4 333 619.4C331.1 620.4 329.8 622.4 328.7 622.3C327.6 622.2 326.5 621.2 326.2 618.8C325.9 616.4 327 611.6 327 607.7C327 603.8 326.6 599.1 326.2 595.3C325.8 591.5 324.9 587.4 324.3 585C323.7 582.6 323.2 582.3 322.5 581C321.8 579.7 320.8 578.3 320 577.1C319.2 575.9 318.2 574 317.5 574C316.8 574 316.3 575.6 315.7 577.1C315.1 578.6 314.2 580.8 313.8 583C313.4 585.2 313.8 587.3 313.5 590.4C313.2 593.5 312.2 597 312 601.5C311.8 606 312.4 613.5 312.2 617.6C312 621.7 311.7 624.2 310.8 626.2C309.9 628.2 308.4 630.5 307 629.9C305.6 629.3 303.9 625.2 302.7 622.5C301.5 619.8 300 616.4 299.6 613.9C299.2 611.4 299.6 610.8 300.3 607.7C301 604.6 303 599.4 304 595.3C305 591.2 305.8 586.6 306.4 583Z" fill="#ffecdc"/>
<path d="M326.8 583C325.9 580.4 324.1 574.9 324.1 572.1C324.1 569.3 325.5 567.8 326.8 566C328.1 564.2 330.3 562.5 331.7 561.6C333.1 560.7 334.3 560.5 335.4 560.8C336.5 561.1 337.6 562 338.5 563.5C339.4 565 340.4 567.4 341 569.7C341.6 572 341.8 574.9 341.9 577.1C342 579.3 342.4 580.9 341.9 583C341.4 585.1 340.4 588.2 339.1 589.8C337.8 591.3 335.8 592.6 334.2 592.3C332.6 592 330.5 589.4 329.3 587.9C328.1 586.4 327.7 585.6 326.8 583Z" fill="#ffc8b0"/>
<path d="M340.4 626C342 625.9 345.8 626.3 347.8 626.8C349.8 627.2 351.7 627.2 352.5 628.7C353.3 630.2 352.9 633.6 352.7 636.1C352.5 638.6 351.5 641.5 351.5 643.5C351.5 645.5 353.7 647 352.7 647.8C351.7 648.6 347.8 648.3 345.3 648.2C342.8 648.1 340.4 647.7 337.9 647.2C335.4 646.7 332 645.9 330.5 645.3C329 644.7 328.5 644.3 328.7 643.5C328.9 642.7 330.4 641.2 331.7 640.4C333 639.6 335.7 639.9 336.7 638.6C337.7 637.3 337.5 634.3 337.7 632.4C337.9 630.5 337.4 628.5 337.9 627.4C338.3 626.3 338.8 626.1 340.4 626Z" fill="#b0ccff"/>
<path d="M429 583C430.1 583 431.8 584.8 432.7 587.9C433.6 591 434.1 596.1 434.2 601.5C434.3 606.9 433.9 615.5 433.3 620C432.8 624.5 431.9 627.6 430.9 628.7C429.9 629.8 428.2 628.2 427.2 626.8C426.2 625.3 425.6 624.2 425.1 620C424.6 615.8 424.2 606.9 424.3 601.5C424.4 596.1 425.1 591 425.9 587.9C426.7 584.8 427.9 583 429 583Z" fill="#b0ccff"/>
<path d="M430.9 630.5C432 630.5 435.1 631.3 435.8 632.4C436.5 633.5 435.5 635.6 435.2 637.3C434.9 638.9 434.5 640.6 434 642.3C433.5 643.9 433.1 646.5 432.1 647.2C431.1 647.9 428.4 648.2 427.8 646.6C427.2 645 428.2 639.7 428.4 637.3C428.6 634.9 428.6 633.5 429 632.4C429.4 631.3 429.8 630.5 430.9 630.5Z" fill="#b0ccff"/>
<path d="M436.4 632.4L442 632.4L442 656L431.5 656L431.5 647.8L434 642.3L435.2 637.3Z" fill="#fff"/>
<path d="M402 648.6L433 648.6L433 656L402 656Z" fill="#fff"/>
</g>
<g stroke="#000" stroke-width="1.3" fill="none">
<rect x="219.2" y="429" width="220.7" height="221.5"/>
<path d="M219.2 650.5v6.3M219.2 429v-6M256 650.5v6.3M256 429v-6M292.8 650.5v6.3M292.8 429v-6M329.5 650.5v6.3M329.5 429v-6M366.3 650.5v6.3M366.3 429v-6M403.1 650.5v6.3M403.1 429v-6M439.9 650.5v6.3M439.9 429v-6"/>
<path d="M231.5 650.5v3.2M231.5 429v-3.2M243.7 650.5v3.2M243.7 429v-3.2M268.2 650.5v3.2M268.2 429v-3.2M280.5 650.5v3.2M280.5 429v-3.2M305 650.5v3.2M305 429v-3.2M317.3 650.5v3.2M317.3 429v-3.2M341.8 650.5v3.2M341.8 429v-3.2M354.1 650.5v3.2M354.1 429v-3.2M378.6 650.5v3.2M378.6 429v-3.2M390.9 650.5v3.2M390.9 429v-3.2M415.4 650.5v3.2M415.4 429v-3.2M427.6 650.5v3.2M427.6 429v-3.2" stroke="#222" stroke-width="0.9"/>
<path d="M219.2 459.1h-6.3M219.2 504.7h-6.3M219.2 526h-6.3M219.2 540h-6.3M219.2 554.8h-6.3M219.2 571.6h-6.3M219.2 583.6h-6.3M219.2 592.9h-6.3M219.2 600.5h-6.3M219.2 612.4h-6.3M219.2 621.7h-6.3M219.2 635.7h-6.3M219.2 643.7h-6.3M219.2 650.5h-6.3" stroke-width="1.05"/>
</g>
<text x="208" y="462.4" font-size="9.3" text-anchor="end" textLength="10.8" lengthAdjust="spacingAndGlyphs" style="stroke-width:.05px">10</text>
<text x="208" y="508" font-size="9.3" text-anchor="end" textLength="10.8" lengthAdjust="spacingAndGlyphs" style="stroke-width:.05px">30</text>
<text x="208" y="529.3" font-size="9.3" text-anchor="end" textLength="10.8" lengthAdjust="spacingAndGlyphs" style="stroke-width:.05px">50</text>
<text x="208" y="543.3" font-size="9.3" text-anchor="end" textLength="10.8" lengthAdjust="spacingAndGlyphs" style="stroke-width:.05px">70</text>
<text x="208" y="558.1" font-size="9.3" text-anchor="end" textLength="16.2" lengthAdjust="spacingAndGlyphs" style="stroke-width:.05px">100</text>
<text x="208" y="574.9" font-size="9.3" text-anchor="end" textLength="16.2" lengthAdjust="spacingAndGlyphs" style="stroke-width:.05px">150</text>
<text x="208" y="586.9" font-size="9.3" text-anchor="end" textLength="16.2" lengthAdjust="spacingAndGlyphs" style="stroke-width:.05px">200</text>
<text x="208" y="596.2" font-size="9.3" text-anchor="end" textLength="16.2" lengthAdjust="spacingAndGlyphs" style="stroke-width:.05px">250</text>
<text x="208" y="603.8" font-size="9.3" text-anchor="end" textLength="16.2" lengthAdjust="spacingAndGlyphs" style="stroke-width:.05px">300</text>
<text x="208" y="615.7" font-size="9.3" text-anchor="end" textLength="16.2" lengthAdjust="spacingAndGlyphs" style="stroke-width:.05px">400</text>
<text x="208" y="625" font-size="9.3" text-anchor="end" textLength="16.2" lengthAdjust="spacingAndGlyphs" style="stroke-width:.05px">500</text>
<text x="208" y="639" font-size="9.3" text-anchor="end" textLength="16.2" lengthAdjust="spacingAndGlyphs" style="stroke-width:.05px">700</text>
<text x="208" y="647" font-size="9.3" text-anchor="end" textLength="16.2" lengthAdjust="spacingAndGlyphs" style="stroke-width:.05px">850</text>
<text x="208" y="653.8" font-size="9.3" text-anchor="end" textLength="21.6" lengthAdjust="spacingAndGlyphs" style="stroke-width:.05px">1000</text>
<text x="451.2" y="440" font-size="9.3" textLength="10.8" lengthAdjust="spacingAndGlyphs" style="stroke-width:.05px">35</text>
<text x="451.2" y="482.4" font-size="9.3" textLength="10.8" lengthAdjust="spacingAndGlyphs" style="stroke-width:.05px">28</text>
<text x="451.2" y="527.3" font-size="9.3" textLength="10.8" lengthAdjust="spacingAndGlyphs" style="stroke-width:.05px">21</text>
<text x="451.2" y="572.5" font-size="9.3" textLength="10.8" lengthAdjust="spacingAndGlyphs" style="stroke-width:.05px">14</text>
<text x="451.2" y="616.7" font-size="9.3" textLength="5.4" lengthAdjust="spacingAndGlyphs" style="stroke-width:.05px">7</text>
<path d="M439.9 436.7h6.3M439.9 479.1h6.3M439.9 524h6.3M439.9 569.2h6.3M439.9 613.4h6.3" stroke="#000" stroke-width="1.05" fill="none"/>
<text x="219.2" y="668.3" font-size="9.3" text-anchor="middle" textLength="16.5" lengthAdjust="spacingAndGlyphs" style="stroke-width:.05px">90N</text>
<text x="256" y="668.3" font-size="9.3" text-anchor="middle" textLength="16.5" lengthAdjust="spacingAndGlyphs" style="stroke-width:.05px">60N</text>
<text x="292.8" y="668.3" font-size="9.3" text-anchor="middle" textLength="16.5" lengthAdjust="spacingAndGlyphs" style="stroke-width:.05px">30N</text>
<text x="329.5" y="668.3" font-size="9.3" text-anchor="middle" textLength="5.4" lengthAdjust="spacingAndGlyphs" style="stroke-width:.05px">0</text>
<text x="366.3" y="668.3" font-size="9.3" text-anchor="middle" textLength="16.5" lengthAdjust="spacingAndGlyphs" style="stroke-width:.05px">30S</text>
<text x="403.1" y="668.3" font-size="9.3" text-anchor="middle" textLength="16.5" lengthAdjust="spacingAndGlyphs" style="stroke-width:.05px">60S</text>
<text x="439.9" y="668.3" font-size="9.3" text-anchor="middle" textLength="16.5" lengthAdjust="spacingAndGlyphs" style="stroke-width:.05px">90S</text>
<text x="206" y="399.4" font-size="14" textLength="110.2" lengthAdjust="spacing">NF55_f09_2010</text>
<text x="325.3" y="399.4" font-size="14" textLength="7.3" lengthAdjust="spacingAndGlyphs">&#8722;</text>
<text x="342.1" y="399.4" font-size="14" textLength="110.6" lengthAdjust="spacing">NF54_f09_2010</text>
<text x="218.5" y="422" font-size="12.5" textLength="66.5" lengthAdjust="spacing" style="stroke-width:.2px">Zonal wind</text>
<text x="441.5" y="419.7" font-size="13" text-anchor="end" textLength="27" lengthAdjust="spacing" style="stroke-width:.2px">m/s</text>
<text x="177.5" y="539.5" font-size="14" text-anchor="middle" textLength="98.3" lengthAdjust="spacing" transform="rotate(-90 177.5 539.5)">Pressure (mb)</text>
<text x="479" y="539.2" font-size="14" text-anchor="middle" textLength="82" lengthAdjust="spacing" transform="rotate(-90 479 539.2)">Height (km)</text>
<text x="469.1" y="451.8" font-size="11" textLength="17.8" lengthAdjust="spacingAndGlyphs" style="stroke-width:.15px">MIN</text>
<text x="494.3" y="451.8" font-size="11" textLength="6.8" lengthAdjust="spacingAndGlyphs" style="stroke-width:.15px">=</text>
<text x="508.9" y="451.8" font-size="11" textLength="39" lengthAdjust="spacing" style="stroke-width:.15px">&#8722;13.79</text>
<text x="560.2" y="451.8" font-size="11" textLength="20.3" lengthAdjust="spacingAndGlyphs" style="stroke-width:.15px">MAX</text>
<text x="588.3" y="451.8" font-size="11" textLength="6.8" lengthAdjust="spacingAndGlyphs" style="stroke-width:.15px">=</text>
<text x="614.5" y="451.8" font-size="11" textLength="23.5" lengthAdjust="spacing" style="stroke-width:.15px">7.65</text>
<rect x="61.1" y="337" width="13.7" height="20.4" fill="#000080"/>
<rect x="74.5" y="337" width="13.7" height="20.4" fill="#0018b0"/>
<rect x="88" y="337" width="13.7" height="20.4" fill="#0028e0"/>
<rect x="101.4" y="337" width="13.7" height="20.4" fill="#1848ff"/>
<rect x="114.8" y="337" width="13.7" height="20.4" fill="#4474ff"/>
<rect x="128.3" y="337" width="13.7" height="20.4" fill="#82a5ff"/>
<rect x="141.7" y="337" width="13.7" height="20.4" fill="#b0ccff"/>
<rect x="155.1" y="337" width="13.7" height="20.4" fill="#d8e8ff"/>
<rect x="168.6" y="337" width="13.7" height="20.4" fill="#ffecdc"/>
<rect x="182" y="337" width="13.7" height="20.4" fill="#ffc8b0"/>
<rect x="195.4" y="337" width="13.7" height="20.4" fill="#ffa07c"/>
<rect x="208.8" y="337" width="13.7" height="20.4" fill="#ff7444"/>
<rect x="222.3" y="337" width="13.7" height="20.4" fill="#ff4c18"/>
<rect x="235.7" y="337" width="13.7" height="20.4" fill="#e22e00"/>
<rect x="249.1" y="337" width="13.7" height="20.4" fill="#b21e00"/>
<rect x="262.6" y="337" width="13.7" height="20.4" fill="#820000"/>
<path d="M61.1 337V357.4M74.5 337V357.4M88 337V357.4M101.4 337V357.4M114.8 337V357.4M128.3 337V357.4M141.7 337V357.4M155.1 337V357.4M168.6 337V357.4M182 337V357.4M195.4 337V357.4M208.8 337V357.4M222.3 337V357.4M235.7 337V357.4M249.1 337V357.4M262.6 337V357.4M276 337V357.4M61.1 337H276M61.1 357.4H276" stroke="#1a1a1a" stroke-width="0.65" fill="none" opacity="0.8"/>
<text x="74.9" y="369.8" font-size="10.3" text-anchor="middle" textLength="18.9" lengthAdjust="spacing" style="stroke-width:.05px">&#8722;20</text>
<text x="101.8" y="369.8" font-size="10.3" text-anchor="middle" textLength="18.9" lengthAdjust="spacing" style="stroke-width:.05px">&#8722;10</text>
<text x="128.7" y="369.8" font-size="10.3" text-anchor="middle" textLength="6.6" lengthAdjust="spacingAndGlyphs" style="stroke-width:.05px">0</text>
<text x="155.5" y="369.8" font-size="10.3" text-anchor="middle" textLength="11.6" lengthAdjust="spacingAndGlyphs" style="stroke-width:.05px">10</text>
<text x="182.4" y="369.8" font-size="10.3" text-anchor="middle" textLength="11.6" lengthAdjust="spacingAndGlyphs" style="stroke-width:.05px">20</text>
<text x="209.2" y="369.8" font-size="10.3" text-anchor="middle" textLength="11.6" lengthAdjust="spacingAndGlyphs" style="stroke-width:.05px">30</text>
<text x="236.1" y="369.8" font-size="10.3" text-anchor="middle" textLength="11.6" lengthAdjust="spacingAndGlyphs" style="stroke-width:.05px">50</text>
<text x="263" y="369.8" font-size="10.3" text-anchor="middle" textLength="11.6" lengthAdjust="spacingAndGlyphs" style="stroke-width:.05px">70</text>
<rect x="382.6" y="337" width="13.7" height="20.4" fill="#000080"/>
<rect x="396" y="337" width="13.7" height="20.4" fill="#0018b0"/>
<rect x="409.5" y="337" width="13.7" height="20.4" fill="#0028e0"/>
<rect x="422.9" y="337" width="13.7" height="20.4" fill="#1848ff"/>
<rect x="436.3" y="337" width="13.7" height="20.4" fill="#4474ff"/>
<rect x="449.8" y="337" width="13.7" height="20.4" fill="#82a5ff"/>
<rect x="463.2" y="337" width="13.7" height="20.4" fill="#b0ccff"/>
<rect x="476.6" y="337" width="13.7" height="20.4" fill="#d8e8ff"/>
<rect x="490.1" y="337" width="13.7" height="20.4" fill="#ffecdc"/>
<rect x="503.5" y="337" width="13.7" height="20.4" fill="#ffc8b0"/>
<rect x="516.9" y="337" width="13.7" height="20.4" fill="#ffa07c"/>
<rect x="530.3" y="337" width="13.7" height="20.4" fill="#ff7444"/>
<rect x="543.8" y="337" width="13.7" height="20.4" fill="#ff4c18"/>
<rect x="557.2" y="337" width="13.7" height="20.4" fill="#e22e00"/>
<rect x="570.6" y="337" width="13.7" height="20.4" fill="#b21e00"/>
<rect x="584.1" y="337" width="13.7" height="20.4" fill="#820000"/>
<path d="M382.6 337V357.4M396 337V357.4M409.5 337V357.4M422.9 337V357.4M436.3 337V357.4M449.8 337V357.4M463.2 337V357.4M476.6 337V357.4M490.1 337V357.4M503.5 337V357.4M516.9 337V357.4M530.3 337V357.4M543.8 337V357.4M557.2 337V357.4M570.6 337V357.4M584.1 337V357.4M597.5 337V357.4M382.6 337H597.5M382.6 357.4H597.5" stroke="#1a1a1a" stroke-width="0.65" fill="none" opacity="0.8"/>
<text x="396.4" y="369.8" font-size="10.3" text-anchor="middle" textLength="18.9" lengthAdjust="spacing" style="stroke-width:.05px">&#8722;20</text>
<text x="423.3" y="369.8" font-size="10.3" text-anchor="middle" textLength="18.9" lengthAdjust="spacing" style="stroke-width:.05px">&#8722;10</text>
<text x="450.2" y="369.8" font-size="10.3" text-anchor="middle" textLength="6.6" lengthAdjust="spacingAndGlyphs" style="stroke-width:.05px">0</text>
<text x="477" y="369.8" font-size="10.3" text-anchor="middle" textLength="11.6" lengthAdjust="spacingAndGlyphs" style="stroke-width:.05px">10</text>
<text x="503.9" y="369.8" font-size="10.3" text-anchor="middle" textLength="11.6" lengthAdjust="spacingAndGlyphs" style="stroke-width:.05px">20</text>
<text x="530.7" y="369.8" font-size="10.3" text-anchor="middle" textLength="11.6" lengthAdjust="spacingAndGlyphs" style="stroke-width:.05px">30</text>
<text x="557.6" y="369.8" font-size="10.3" text-anchor="middle" textLength="11.6" lengthAdjust="spacingAndGlyphs" style="stroke-width:.05px">50</text>
<text x="584.5" y="369.8" font-size="10.3" text-anchor="middle" textLength="11.6" lengthAdjust="spacingAndGlyphs" style="stroke-width:.05px">70</text>
<rect x="526.9" y="637" width="30" height="11.4" fill="#000080"/>
<rect x="526.9" y="625.9" width="30" height="11.4" fill="#0018b0"/>
<rect x="526.9" y="614.7" width="30" height="11.4" fill="#0028e0"/>
<rect x="526.9" y="603.6" width="30" height="11.4" fill="#1848ff"/>
<rect x="526.9" y="592.5" width="30" height="11.4" fill="#4474ff"/>
<rect x="526.9" y="581.4" width="30" height="11.4" fill="#82a5ff"/>
<rect x="526.9" y="570.3" width="30" height="11.4" fill="#b0ccff"/>
<rect x="526.9" y="559.1" width="30" height="11.4" fill="#d8e8ff"/>
<rect x="526.9" y="548" width="30" height="11.4" fill="#ffecdc"/>
<rect x="526.9" y="536.9" width="30" height="11.4" fill="#ffc8b0"/>
<rect x="526.9" y="525.8" width="30" height="11.4" fill="#ffa07c"/>
<rect x="526.9" y="514.7" width="30" height="11.4" fill="#ff7444"/>
<rect x="526.9" y="503.6" width="30" height="11.4" fill="#ff4c18"/>
<rect x="526.9" y="492.4" width="30" height="11.4" fill="#e22e00"/>
<rect x="526.9" y="481.3" width="30" height="11.4" fill="#b21e00"/>
<rect x="526.9" y="470.2" width="30" height="11.4" fill="#820000"/>
<path d="M526.9 470.2H556.9M526.9 481.3H556.9M526.9 492.4H556.9M526.9 503.6H556.9M526.9 514.7H556.9M526.9 525.8H556.9M526.9 536.9H556.9M526.9 548H556.9M526.9 559.1H556.9M526.9 570.3H556.9M526.9 581.4H556.9M526.9 592.5H556.9M526.9 603.6H556.9M526.9 614.7H556.9M526.9 625.9H556.9M526.9 637H556.9M526.9 648.1H556.9M526.9 470.2V648.1M556.9 470.2V648.1" stroke="#1a1a1a" stroke-width="0.65" fill="none" opacity="0.8"/>
<text x="570.4" y="640.6" font-size="10" text-anchor="middle" textLength="19.7" lengthAdjust="spacing" style="stroke-width:.05px">&#8722;18</text>
<text x="570.4" y="629.5" font-size="10" text-anchor="middle" textLength="19.7" lengthAdjust="spacing" style="stroke-width:.05px">&#8722;15</text>
<text x="570.4" y="618.3" font-size="10" text-anchor="middle" textLength="19.7" lengthAdjust="spacing" style="stroke-width:.05px">&#8722;12</text>
<text x="570.4" y="607.2" font-size="10" text-anchor="middle" textLength="12.8" lengthAdjust="spacing" style="stroke-width:.05px">&#8722;9</text>
<text x="570.4" y="596.1" font-size="10" text-anchor="middle" textLength="12.8" lengthAdjust="spacing" style="stroke-width:.05px">&#8722;6</text>
<text x="570.4" y="585" font-size="10" text-anchor="middle" textLength="12.8" lengthAdjust="spacing" style="stroke-width:.05px">&#8722;3</text>
<text x="570.4" y="573.9" font-size="10" text-anchor="middle" textLength="12.8" lengthAdjust="spacing" style="stroke-width:.05px">&#8722;1</text>
<text x="570.4" y="562.8" font-size="10" text-anchor="middle" textLength="6.8" lengthAdjust="spacingAndGlyphs" style="stroke-width:.05px">0</text>
<text x="570.4" y="551.6" font-size="10" text-anchor="middle" textLength="6.8" lengthAdjust="spacingAndGlyphs" style="stroke-width:.05px">1</text>
<text x="570.4" y="540.5" font-size="10" text-anchor="middle" textLength="6.8" lengthAdjust="spacingAndGlyphs" style="stroke-width:.05px">3</text>
<text x="570.4" y="529.4" font-size="10" text-anchor="middle" textLength="6.8" lengthAdjust="spacingAndGlyphs" style="stroke-width:.05px">6</text>
<text x="570.4" y="518.3" font-size="10" text-anchor="middle" textLength="6.8" lengthAdjust="spacingAndGlyphs" style="stroke-width:.05px">9</text>
<text x="570.4" y="507.2" font-size="10" text-anchor="middle" textLength="11" lengthAdjust="spacingAndGlyphs" style="stroke-width:.05px">12</text>
<text x="570.4" y="496" font-size="10" text-anchor="middle" textLength="11" lengthAdjust="spacingAndGlyphs" style="stroke-width:.05px">15</text>
<text x="570.4" y="484.9" font-size="10" text-anchor="middle" textLength="11" lengthAdjust="spacingAndGlyphs" style="stroke-width:.05px">18</text>
</svg></body></html>
